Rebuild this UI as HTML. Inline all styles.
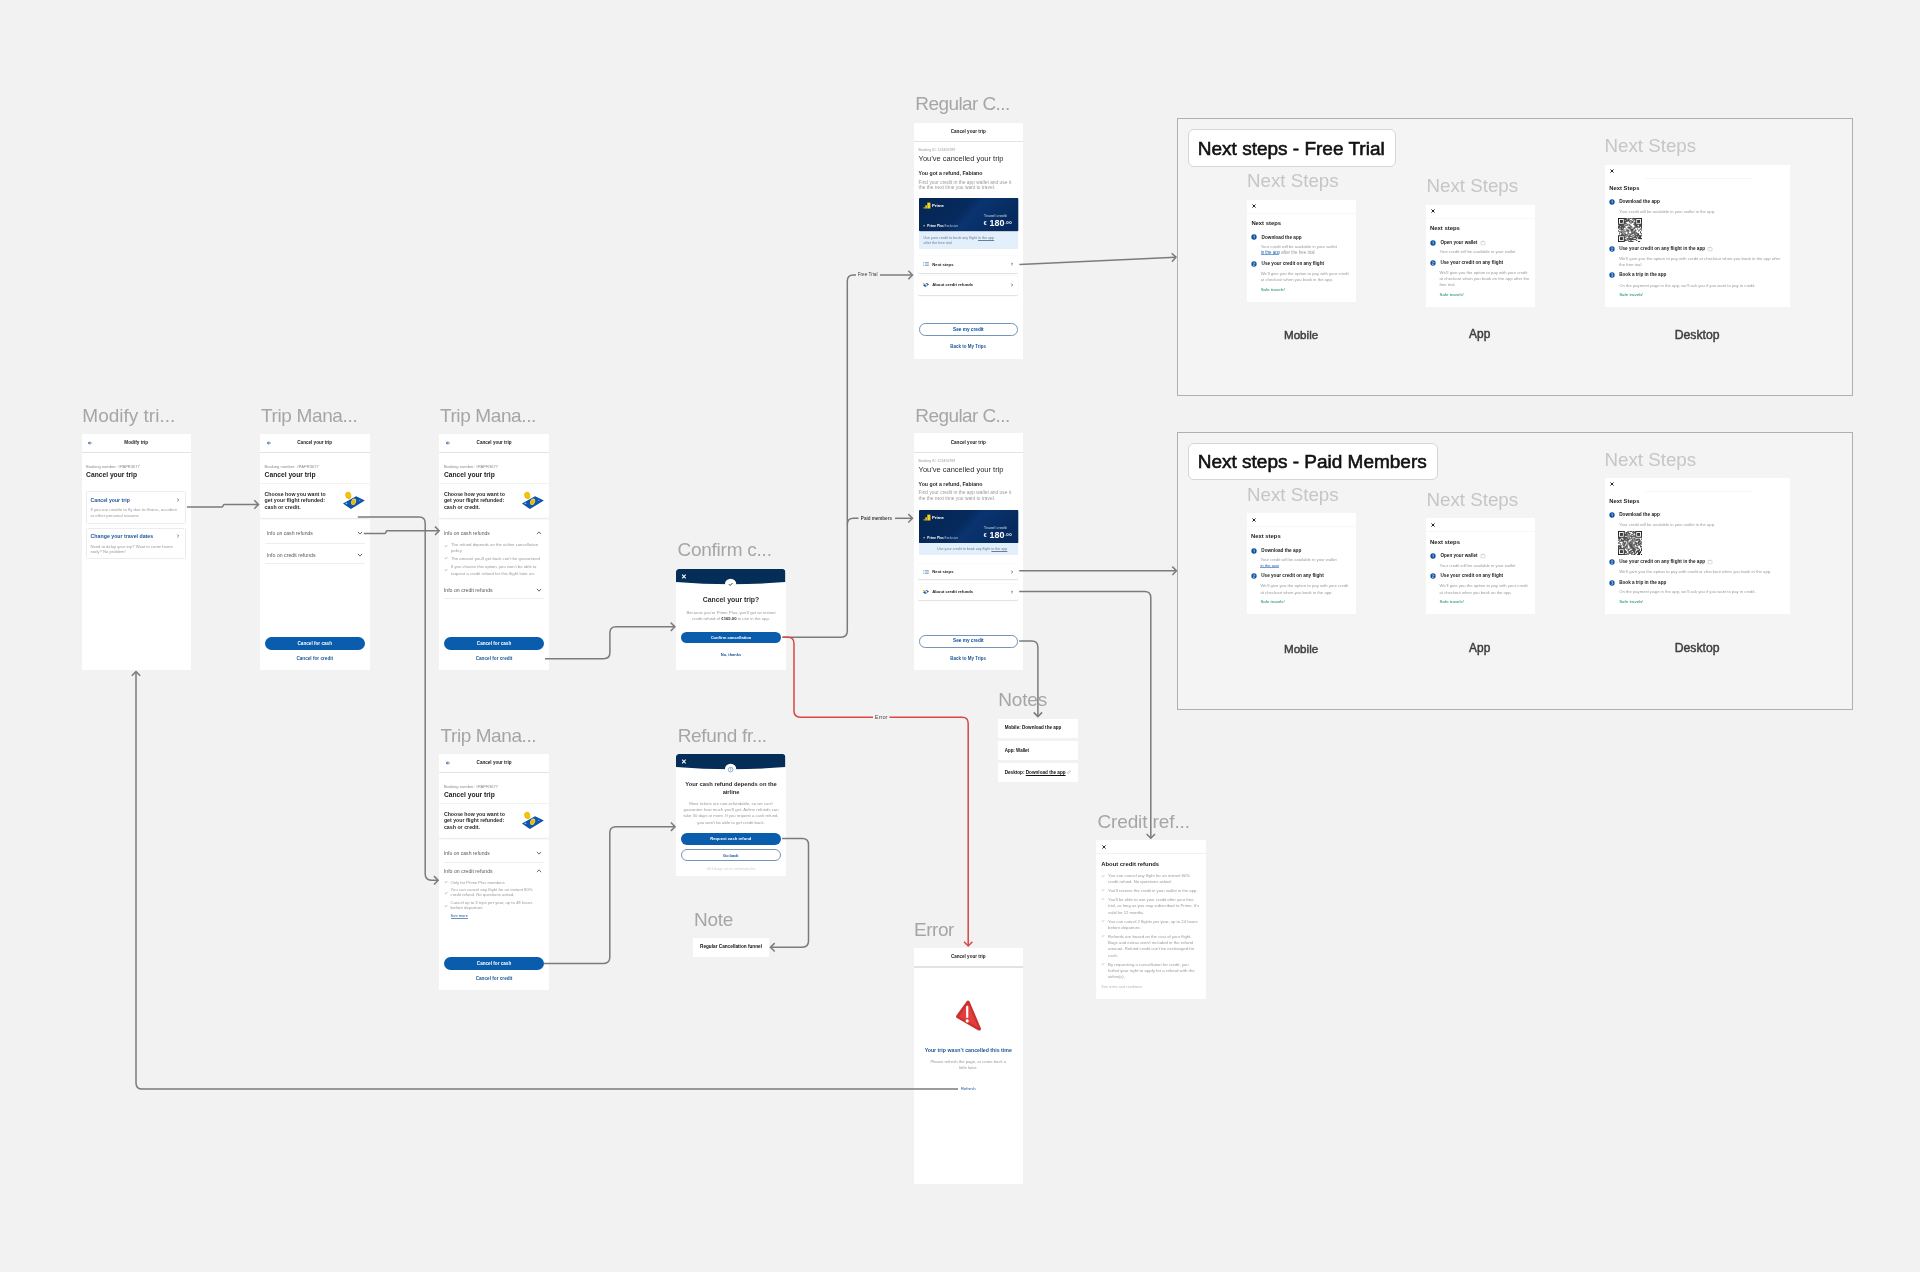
<!DOCTYPE html><html><head><meta charset="utf-8"><style>
html,body{margin:0;padding:0}body{width:1920px;height:1272px;background:#f2f2f2;position:relative;overflow:hidden;font-family:'Liberation Sans',sans-serif}
.t{position:absolute;white-space:nowrap}.r{position:absolute}.f{position:absolute;background:#fff;overflow:hidden}#w{position:absolute;left:0;top:0;width:1920px;height:1272px;will-change:transform}
</style></head><body><div id="w">
<div class="t" style="left:82.30px;top:405.56px;font-size:19px;line-height:19px;color:#a6a6a6;font-weight:400;letter-spacing:0.007px;">Modify tri...</div>
<div class="t" style="left:261.00px;top:405.56px;font-size:19px;line-height:19px;color:#a6a6a6;font-weight:400;letter-spacing:-0.364px;">Trip Mana...</div>
<div class="t" style="left:439.90px;top:405.56px;font-size:19px;line-height:19px;color:#a6a6a6;font-weight:400;letter-spacing:-0.38px;">Trip Mana...</div>
<div class="t" style="left:440.50px;top:725.86px;font-size:19px;line-height:19px;color:#a6a6a6;font-weight:400;letter-spacing:-0.422px;">Trip Mana...</div>
<div class="t" style="left:677.40px;top:540.06px;font-size:19px;line-height:19px;color:#a6a6a6;font-weight:400;letter-spacing:-0.235px;">Confirm c...</div>
<div class="t" style="left:677.70px;top:725.76px;font-size:19px;line-height:19px;color:#a6a6a6;font-weight:400;letter-spacing:-0.316px;">Refund fr...</div>
<div class="t" style="left:693.90px;top:909.76px;font-size:19px;line-height:19px;color:#a6a6a6;font-weight:400;letter-spacing:-0.233px;">Note</div>
<div class="t" style="left:915.30px;top:94.36px;font-size:19px;line-height:19px;color:#a6a6a6;font-weight:400;letter-spacing:-0.581px;">Regular C...</div>
<div class="t" style="left:915.30px;top:406.26px;font-size:19px;line-height:19px;color:#a6a6a6;font-weight:400;letter-spacing:-0.581px;">Regular C...</div>
<div class="t" style="left:998.30px;top:690.26px;font-size:19px;line-height:19px;color:#a6a6a6;font-weight:400;letter-spacing:-0.167px;">Notes</div>
<div class="t" style="left:914.10px;top:919.86px;font-size:19px;line-height:19px;color:#a6a6a6;font-weight:400;letter-spacing:-0.504px;">Error</div>
<div class="t" style="left:1097.40px;top:811.66px;font-size:19px;line-height:19px;color:#a6a6a6;font-weight:400;letter-spacing:-0.113px;">Credit ref...</div>
<div class="f" style="left:81.5px;top:433.6px;width:109.5px;height:236.5px;"><div class="r" style="left:0.00px;top:0.00px;width:109.50px;height:19.00px;background:#fff;"></div><div class="r" style="left:0.00px;top:18.60px;width:109.50px;height:1.30px;background:#e3e3e3;"></div><div class="t" style="left:-145.25px;width:400px;text-align:center;top:7.36px;font-size:4.677px;line-height:4.677px;color:#1e1e1e;font-weight:700;">Modify trip</div><svg class="r" style="left:4.80px;top:5.50px" width="8" height="8" viewBox="-4.0 -4.0 8 8"><path d="M1.7 0H-1.6M-0.1 -1.5L-1.6 0L-0.1 1.5" stroke="#1d5599" stroke-width="0.85" fill="none"/></svg><div class="t" style="left:4.60px;top:31.67px;font-size:4.055px;line-height:4.055px;color:#8c8c8c;font-weight:400;">Booking number: #PAPR3677</div><div class="t" style="left:4.60px;top:38.65px;font-size:6.699px;line-height:6.699px;color:#222;font-weight:700;">Cancel your trip</div><div class="r" style="left:4.60px;top:57.20px;width:99.50px;height:33.00px;border:0.7px solid #ececec;border-radius:1.5px;box-sizing:border-box;"></div><div class="t" style="left:9.10px;top:64.21px;font-size:5.175px;line-height:5.175px;color:#1d5599;font-weight:700;">Cancel your trip</div><svg class="r" style="left:92.80px;top:62.40px" width="8" height="8" viewBox="-4.0 -4.0 8 8"><path d="M-0.72 -1.44L0.72 0L-0.72 1.44" stroke="#1a4d8f" stroke-width="0.7" fill="none"/></svg><div class="t" style="left:8.90px;top:74.56px;font-size:4.27px;line-height:4.27px;color:#9a9a9a;font-weight:400;">If you are unable to fly due to illness, accident</div><div class="t" style="left:8.90px;top:80.26px;font-size:4.274px;line-height:4.274px;color:#9a9a9a;font-weight:400;">or other personal reasons</div><div class="r" style="left:4.60px;top:94.40px;width:99.50px;height:31.40px;border:0.7px solid #ececec;border-radius:1.5px;box-sizing:border-box;"></div><div class="t" style="left:9.10px;top:100.18px;font-size:5.248px;line-height:5.248px;color:#1d5599;font-weight:700;">Change your travel dates</div><svg class="r" style="left:92.80px;top:98.40px" width="8" height="8" viewBox="-4.0 -4.0 8 8"><path d="M-0.72 -1.44L0.72 0L-0.72 1.44" stroke="#1a4d8f" stroke-width="0.7" fill="none"/></svg><div class="t" style="left:8.90px;top:110.91px;font-size:4.178px;line-height:4.178px;color:#9a9a9a;font-weight:400;">Need to delay your trip? Want to come home</div><div class="t" style="left:8.90px;top:116.51px;font-size:4.19px;line-height:4.19px;color:#9a9a9a;font-weight:400;">early? No problem!</div></div>
<div class="f" style="left:260.0px;top:433.6px;width:109.5px;height:236.5px;"><div class="r" style="left:0.00px;top:0.00px;width:109.50px;height:19.00px;background:#fff;"></div><div class="r" style="left:0.00px;top:18.60px;width:109.50px;height:1.30px;background:#e3e3e3;"></div><div class="t" style="left:-145.25px;width:400px;text-align:center;top:7.41px;font-size:4.584px;line-height:4.584px;color:#1e1e1e;font-weight:700;">Cancel your trip</div><svg class="r" style="left:4.80px;top:5.50px" width="8" height="8" viewBox="-4.0 -4.0 8 8"><path d="M1.7 0H-1.6M-0.1 -1.5L-1.6 0L-0.1 1.5" stroke="#1d5599" stroke-width="0.85" fill="none"/></svg><div class="t" style="left:4.60px;top:31.66px;font-size:4.085px;line-height:4.085px;color:#8c8c8c;font-weight:400;">Booking number: #PAPR3677</div><div class="t" style="left:4.60px;top:38.65px;font-size:6.699px;line-height:6.699px;color:#222;font-weight:700;">Cancel your trip</div><div class="r" style="left:0.00px;top:49.60px;width:109.50px;height:1.20px;background:#f3f3f3;"></div><div class="r" style="left:0.00px;top:51.50px;width:109.50px;height:32.50px;background:#fff;box-shadow:0 1px 1.5px rgba(0,0,0,0.10);border-radius:0 0 2px 2px;"></div><div class="t" style="left:4.60px;top:58.50px;font-size:5.205px;line-height:5.205px;color:#2b2b2b;font-weight:700;">Choose how you want to</div><div class="t" style="left:4.60px;top:64.88px;font-size:5.236px;line-height:5.236px;color:#2b2b2b;font-weight:700;">get your flight refunded:</div><div class="t" style="left:4.60px;top:71.25px;font-size:5.296px;line-height:5.296px;color:#2b2b2b;font-weight:700;">cash or credit.</div><svg class="r" style="left:82.50px;top:57.30px" width="22" height="19" viewBox="0 0 22 19">
<polygon points="0,12.5 13.1,5.2 21.8,9.4 7.9,17.9" fill="#0b4da0"/>
<polygon points="1.2,12.5 13.1,6 20.5,9.4 7.9,17" fill="#0f56ad"/>
<ellipse cx="10.6" cy="10.8" rx="2.3" ry="3.3" transform="rotate(25 10.6 10.8)" fill="#f6e7a0"/>
<ellipse cx="10.4" cy="11" rx="1.9" ry="2.9" transform="rotate(25 10.4 11)" fill="#e9b800"/>
<circle cx="3.4" cy="12.3" r="0.9" fill="#6cc8ff"/>
<circle cx="16.6" cy="9.3" r="0.9" fill="#3c90e6"/>
<ellipse cx="5.3" cy="4.4" rx="2.9" ry="3.6" transform="rotate(-15 5.3 4.4)" fill="#e7b000"/>
<ellipse cx="5.6" cy="4.2" rx="2.3" ry="3.1" transform="rotate(-15 5.6 4.2)" fill="#f2c40f"/>
</svg><div class="t" style="left:6.80px;top:97.75px;font-size:5.098px;line-height:5.098px;color:#5a5a5a;font-weight:400;">Info on cash refunds</div><svg class="r" style="left:95.60px;top:95.90px" width="8" height="8" viewBox="-4.0 -4.0 8 8"><path d="M-2.1 -1.15L0 1.15L2.1 -1.15" stroke="#444" stroke-width="0.8" fill="none"/></svg><div class="r" style="left:4.60px;top:109.30px;width:100.00px;height:0.60px;background:#ededed;"></div><div class="t" style="left:6.80px;top:119.70px;font-size:5.195px;line-height:5.195px;color:#5a5a5a;font-weight:400;">Info on credit refunds</div><svg class="r" style="left:95.60px;top:117.90px" width="8" height="8" viewBox="-4.0 -4.0 8 8"><path d="M-2.1 -1.15L0 1.15L2.1 -1.15" stroke="#444" stroke-width="0.8" fill="none"/></svg><div class="r" style="left:4.60px;top:129.80px;width:100.00px;height:0.60px;background:#ededed;"></div><div class="r" style="left:5.00px;top:203.50px;width:99.50px;height:13.00px;background:#0a5cad;border-radius:6.5px;"></div><div class="t" style="left:-145.25px;width:400px;text-align:center;top:208.08px;font-size:4.633px;line-height:4.633px;color:#fff;font-weight:700;">Cancel for cash</div><div class="t" style="left:-145.25px;width:400px;text-align:center;top:223.06px;font-size:4.689px;line-height:4.689px;color:#1d5599;font-weight:700;">Cancel for credit</div></div>
<div class="f" style="left:439.3px;top:433.6px;width:109.5px;height:236.5px;"><div class="r" style="left:0.00px;top:0.00px;width:109.50px;height:19.00px;background:#fff;"></div><div class="r" style="left:0.00px;top:18.60px;width:109.50px;height:1.30px;background:#e3e3e3;"></div><div class="t" style="left:-145.25px;width:400px;text-align:center;top:7.41px;font-size:4.584px;line-height:4.584px;color:#1e1e1e;font-weight:700;">Cancel your trip</div><svg class="r" style="left:4.80px;top:5.50px" width="8" height="8" viewBox="-4.0 -4.0 8 8"><path d="M1.7 0H-1.6M-0.1 -1.5L-1.6 0L-0.1 1.5" stroke="#1d5599" stroke-width="0.85" fill="none"/></svg><div class="t" style="left:4.60px;top:31.66px;font-size:4.085px;line-height:4.085px;color:#8c8c8c;font-weight:400;">Booking number: #PAPR3677</div><div class="t" style="left:4.60px;top:38.65px;font-size:6.699px;line-height:6.699px;color:#222;font-weight:700;">Cancel your trip</div><div class="r" style="left:0.00px;top:49.60px;width:109.50px;height:1.20px;background:#f3f3f3;"></div><div class="r" style="left:0.00px;top:51.50px;width:109.50px;height:32.50px;background:#fff;box-shadow:0 1px 1.5px rgba(0,0,0,0.10);border-radius:0 0 2px 2px;"></div><div class="t" style="left:4.60px;top:58.50px;font-size:5.205px;line-height:5.205px;color:#2b2b2b;font-weight:700;">Choose how you want to</div><div class="t" style="left:4.60px;top:64.88px;font-size:5.236px;line-height:5.236px;color:#2b2b2b;font-weight:700;">get your flight refunded:</div><div class="t" style="left:4.60px;top:71.25px;font-size:5.296px;line-height:5.296px;color:#2b2b2b;font-weight:700;">cash or credit.</div><svg class="r" style="left:82.50px;top:57.30px" width="22" height="19" viewBox="0 0 22 19">
<polygon points="0,12.5 13.1,5.2 21.8,9.4 7.9,17.9" fill="#0b4da0"/>
<polygon points="1.2,12.5 13.1,6 20.5,9.4 7.9,17" fill="#0f56ad"/>
<ellipse cx="10.6" cy="10.8" rx="2.3" ry="3.3" transform="rotate(25 10.6 10.8)" fill="#f6e7a0"/>
<ellipse cx="10.4" cy="11" rx="1.9" ry="2.9" transform="rotate(25 10.4 11)" fill="#e9b800"/>
<circle cx="3.4" cy="12.3" r="0.9" fill="#6cc8ff"/>
<circle cx="16.6" cy="9.3" r="0.9" fill="#3c90e6"/>
<ellipse cx="5.3" cy="4.4" rx="2.9" ry="3.6" transform="rotate(-15 5.3 4.4)" fill="#e7b000"/>
<ellipse cx="5.6" cy="4.2" rx="2.3" ry="3.1" transform="rotate(-15 5.6 4.2)" fill="#f2c40f"/>
</svg><div class="t" style="left:4.50px;top:97.75px;font-size:5.098px;line-height:5.098px;color:#5a5a5a;font-weight:400;">Info on cash refunds</div><svg class="r" style="left:95.60px;top:95.90px" width="8" height="8" viewBox="-4.0 -4.0 8 8"><path d="M-2.1 1.15L0 -1.15L2.1 1.15" stroke="#444" stroke-width="0.8" fill="none"/></svg><svg class="r" style="left:3.00px;top:108.50px" width="8" height="8" viewBox="-4.0 -4.0 8 8"><path d="M-1.3 0.1L-0.5 0.9L1.3 -1" stroke="#4f9274" stroke-width="0.55" fill="none"/></svg><div class="t" style="left:11.60px;top:109.47px;font-size:4.265px;line-height:4.265px;color:#9a9a9a;font-weight:400;">The refund depends on the airline cancellation</div><div class="t" style="left:11.60px;top:115.05px;font-size:4.303px;line-height:4.303px;color:#9a9a9a;font-weight:400;">policy</div><svg class="r" style="left:3.00px;top:120.80px" width="8" height="8" viewBox="-4.0 -4.0 8 8"><path d="M-1.3 0.1L-0.5 0.9L1.3 -1" stroke="#4f9274" stroke-width="0.55" fill="none"/></svg><div class="t" style="left:11.60px;top:122.98px;font-size:4.246px;line-height:4.246px;color:#9a9a9a;font-weight:400;">The amount you'll get back can't be guaranteed</div><svg class="r" style="left:3.00px;top:132.80px" width="8" height="8" viewBox="-4.0 -4.0 8 8"><path d="M-1.3 0.1L-0.5 0.9L1.3 -1" stroke="#4f9274" stroke-width="0.55" fill="none"/></svg><div class="t" style="left:11.60px;top:131.68px;font-size:4.237px;line-height:4.237px;color:#9a9a9a;font-weight:400;">If you choose this option, you won't be able to</div><div class="t" style="left:11.60px;top:137.95px;font-size:4.303px;line-height:4.303px;color:#9a9a9a;font-weight:400;">request a credit refund for this flight later on.</div><div class="t" style="left:4.50px;top:153.99px;font-size:5.216px;line-height:5.216px;color:#5a5a5a;font-weight:400;">Info on credit refunds</div><svg class="r" style="left:95.60px;top:152.20px" width="8" height="8" viewBox="-4.0 -4.0 8 8"><path d="M-2.1 -1.15L0 1.15L2.1 -1.15" stroke="#444" stroke-width="0.8" fill="none"/></svg><div class="r" style="left:4.60px;top:164.50px;width:100.00px;height:0.60px;background:#ededed;"></div><div class="r" style="left:5.00px;top:203.50px;width:99.50px;height:13.00px;background:#0a5cad;border-radius:6.5px;"></div><div class="t" style="left:-145.25px;width:400px;text-align:center;top:208.08px;font-size:4.633px;line-height:4.633px;color:#fff;font-weight:700;">Cancel for cash</div><div class="t" style="left:-145.25px;width:400px;text-align:center;top:223.06px;font-size:4.689px;line-height:4.689px;color:#1d5599;font-weight:700;">Cancel for credit</div></div>
<div class="f" style="left:439.3px;top:753.6px;width:109.5px;height:236.5px;"><div class="r" style="left:0.00px;top:0.00px;width:109.50px;height:19.00px;background:#fff;"></div><div class="r" style="left:0.00px;top:18.60px;width:109.50px;height:1.30px;background:#e3e3e3;"></div><div class="t" style="left:-145.25px;width:400px;text-align:center;top:7.41px;font-size:4.584px;line-height:4.584px;color:#1e1e1e;font-weight:700;">Cancel your trip</div><svg class="r" style="left:4.80px;top:5.50px" width="8" height="8" viewBox="-4.0 -4.0 8 8"><path d="M1.7 0H-1.6M-0.1 -1.5L-1.6 0L-0.1 1.5" stroke="#1d5599" stroke-width="0.85" fill="none"/></svg><div class="t" style="left:4.60px;top:31.66px;font-size:4.085px;line-height:4.085px;color:#8c8c8c;font-weight:400;">Booking number: #PAPR3677</div><div class="t" style="left:4.60px;top:38.65px;font-size:6.699px;line-height:6.699px;color:#222;font-weight:700;">Cancel your trip</div><div class="r" style="left:0.00px;top:49.60px;width:109.50px;height:1.20px;background:#f3f3f3;"></div><div class="r" style="left:0.00px;top:51.50px;width:109.50px;height:32.50px;background:#fff;box-shadow:0 1px 1.5px rgba(0,0,0,0.10);border-radius:0 0 2px 2px;"></div><div class="t" style="left:4.60px;top:58.50px;font-size:5.205px;line-height:5.205px;color:#2b2b2b;font-weight:700;">Choose how you want to</div><div class="t" style="left:4.60px;top:64.88px;font-size:5.236px;line-height:5.236px;color:#2b2b2b;font-weight:700;">get your flight refunded:</div><div class="t" style="left:4.60px;top:71.25px;font-size:5.296px;line-height:5.296px;color:#2b2b2b;font-weight:700;">cash or credit.</div><svg class="r" style="left:82.50px;top:57.30px" width="22" height="19" viewBox="0 0 22 19">
<polygon points="0,12.5 13.1,5.2 21.8,9.4 7.9,17.9" fill="#0b4da0"/>
<polygon points="1.2,12.5 13.1,6 20.5,9.4 7.9,17" fill="#0f56ad"/>
<ellipse cx="10.6" cy="10.8" rx="2.3" ry="3.3" transform="rotate(25 10.6 10.8)" fill="#f6e7a0"/>
<ellipse cx="10.4" cy="11" rx="1.9" ry="2.9" transform="rotate(25 10.4 11)" fill="#e9b800"/>
<circle cx="3.4" cy="12.3" r="0.9" fill="#6cc8ff"/>
<circle cx="16.6" cy="9.3" r="0.9" fill="#3c90e6"/>
<ellipse cx="5.3" cy="4.4" rx="2.9" ry="3.6" transform="rotate(-15 5.3 4.4)" fill="#e7b000"/>
<ellipse cx="5.6" cy="4.2" rx="2.3" ry="3.1" transform="rotate(-15 5.6 4.2)" fill="#f2c40f"/>
</svg><div class="t" style="left:4.50px;top:97.75px;font-size:5.098px;line-height:5.098px;color:#5a5a5a;font-weight:400;">Info on cash refunds</div><svg class="r" style="left:95.60px;top:95.90px" width="8" height="8" viewBox="-4.0 -4.0 8 8"><path d="M-2.1 -1.15L0 1.15L2.1 -1.15" stroke="#444" stroke-width="0.8" fill="none"/></svg><div class="r" style="left:4.60px;top:108.20px;width:100.00px;height:0.60px;background:#ededed;"></div><div class="t" style="left:4.50px;top:115.39px;font-size:5.216px;line-height:5.216px;color:#5a5a5a;font-weight:400;">Info on credit refunds</div><svg class="r" style="left:95.60px;top:113.60px" width="8" height="8" viewBox="-4.0 -4.0 8 8"><path d="M-2.1 1.15L0 -1.15L2.1 1.15" stroke="#444" stroke-width="0.8" fill="none"/></svg><svg class="r" style="left:2.60px;top:124.80px" width="8" height="8" viewBox="-4.0 -4.0 8 8"><path d="M-1.3 0.1L-0.5 0.9L1.3 -1" stroke="#4f9274" stroke-width="0.55" fill="none"/></svg><div class="t" style="left:11.30px;top:127.11px;font-size:4.181px;line-height:4.181px;color:#9a9a9a;font-weight:400;">Only for Prime Plus members</div><svg class="r" style="left:2.60px;top:135.00px" width="8" height="8" viewBox="-4.0 -4.0 8 8"><path d="M-1.3 0.1L-0.5 0.9L1.3 -1" stroke="#4f9274" stroke-width="0.55" fill="none"/></svg><div class="t" style="left:11.30px;top:134.78px;font-size:4.24px;line-height:4.24px;color:#9a9a9a;font-weight:400;">You can cancel any flight for an instant 80%</div><div class="t" style="left:11.30px;top:139.89px;font-size:4.217px;line-height:4.217px;color:#9a9a9a;font-weight:400;">credit refund. No questions asked.</div><svg class="r" style="left:2.60px;top:148.00px" width="8" height="8" viewBox="-4.0 -4.0 8 8"><path d="M-1.3 0.1L-0.5 0.9L1.3 -1" stroke="#4f9274" stroke-width="0.55" fill="none"/></svg><div class="t" style="left:11.30px;top:147.49px;font-size:4.213px;line-height:4.213px;color:#9a9a9a;font-weight:400;">Cancel up to 3 trips per year, up to 48 hours</div><div class="t" style="left:11.30px;top:152.62px;font-size:4.355px;line-height:4.355px;color:#9a9a9a;font-weight:400;">before departure</div><div class="t" style="left:11.30px;top:160.60px;font-size:3.99px;line-height:3.99px;color:#1d5599;font-weight:400;">See more</div><div class="r" style="left:11.30px;top:164.30px;width:17.30px;height:0.35px;background:#6d8fbf;"></div><div class="r" style="left:5.00px;top:203.70px;width:99.50px;height:13.00px;background:#0a5cad;border-radius:6.5px;"></div><div class="t" style="left:-145.25px;width:400px;text-align:center;top:208.28px;font-size:4.633px;line-height:4.633px;color:#fff;font-weight:700;">Cancel for cash</div><div class="t" style="left:-145.25px;width:400px;text-align:center;top:222.96px;font-size:4.689px;line-height:4.689px;color:#1d5599;font-weight:700;">Cancel for credit</div></div>
<div class="f" style="left:676.4px;top:568.7px;width:109.2px;height:101.2px;background:#fff;border-radius:3px 3px 0 0;"><svg class="r" style="left:0;top:0" width="110" height="22" viewBox="0 0 110 22">
<path d="M0 2.6 Q0 0 2.6 0 L106.60000000000001 0 Q109.2 0 109.2 2.6 L109.2 13 Q54.6 17.4 0 13 Z" fill="#042d57"/>
<circle cx="54.6" cy="15.4" r="5.7" fill="#fff"/>
<path d="M0.6 0.6L4.2 4.2M4.2 0.6L0.6 4.2" transform="translate(5.5,5.1)" stroke="#fff" stroke-width="1.05"/>
<path d="M52.9 15.2L54.2 16.5L56.5 14" stroke="#1b1b1b" stroke-width="0.85" fill="none"/></svg><div class="t" style="left:-145.40px;width:400px;text-align:center;top:28.66px;font-size:6.883px;line-height:6.883px;color:#2f2f2f;font-weight:700;">Cancel your trip?</div><div class="t" style="left:-145.40px;width:400px;text-align:center;top:42.48px;font-size:4.24px;line-height:4.24px;color:#9a9a9a;font-weight:400;">Because you're Prime Plus, you'll get an instant</div><div class="t" style="left:-145.40px;width:400px;text-align:center;top:48.59px;font-size:4.213px;line-height:4.213px;color:#9a9a9a;font-weight:400;">credit refund of <b style="color:#333">€165.00</b> to use in the app.</div><div class="r" style="left:4.80px;top:63.00px;width:99.50px;height:11.70px;background:#0a5cad;border-radius:5.85px;"></div><div class="t" style="left:-145.45px;width:400px;text-align:center;top:67.19px;font-size:4.115px;line-height:4.115px;color:#fff;font-weight:700;">Confirm cancellation</div><div class="t" style="left:-145.40px;width:400px;text-align:center;top:84.09px;font-size:4.03px;line-height:4.03px;color:#1d5599;font-weight:700;">No, thanks</div></div>
<div class="f" style="left:676.4px;top:753.7px;width:109.2px;height:122px;background:#fff;border-radius:3px 3px 0 0;"><svg class="r" style="left:0;top:0" width="110" height="22" viewBox="0 0 110 22">
<path d="M0 2.6 Q0 0 2.6 0 L106.60000000000001 0 Q109.2 0 109.2 2.6 L109.2 13 Q54.6 17.4 0 13 Z" fill="#042d57"/>
<circle cx="54.6" cy="15.4" r="5.7" fill="#fff"/>
<path d="M0.6 0.6L4.2 4.2M4.2 0.6L0.6 4.2" transform="translate(5.5,5.1)" stroke="#fff" stroke-width="1.05"/>
<circle cx="54.6" cy="15.6" r="2.3" stroke="#3a7cc8" stroke-width="0.6" fill="none"/><path d="M54.1 14.3L54.7 14.3V16.6" stroke="#3a7cc8" stroke-width="0.5" fill="none"/></svg><div class="t" style="left:-145.40px;width:400px;text-align:center;top:28.80px;font-size:5.79px;line-height:5.79px;color:#2a2a2a;font-weight:700;">Your cash refund depends on the</div><div class="t" style="left:-145.40px;width:400px;text-align:center;top:36.07px;font-size:5.669px;line-height:5.669px;color:#2a2a2a;font-weight:700;">airline</div><div class="t" style="left:-145.40px;width:400px;text-align:center;top:48.05px;font-size:4.295px;line-height:4.295px;color:#9a9a9a;font-weight:400;">Most tickets are non-refundable, so we can't</div><div class="t" style="left:-145.40px;width:400px;text-align:center;top:54.36px;font-size:4.282px;line-height:4.282px;color:#9a9a9a;font-weight:400;">guarantee how much you'll get. Airline refunds can</div><div class="t" style="left:-145.40px;width:400px;text-align:center;top:60.79px;font-size:4.221px;line-height:4.221px;color:#9a9a9a;font-weight:400;">take 30 days or more. If you request a cash refund,</div><div class="t" style="left:-145.40px;width:400px;text-align:center;top:67.18px;font-size:4.239px;line-height:4.239px;color:#9a9a9a;font-weight:400;">you won't be able to get credit back.</div><div class="r" style="left:4.60px;top:78.90px;width:99.60px;height:12.10px;background:#0a5cad;border-radius:6.05px;"></div><div class="t" style="left:-145.60px;width:400px;text-align:center;top:83.27px;font-size:4.165px;line-height:4.165px;color:#fff;font-weight:700;">Request cash refund</div><div class="r" style="left:4.60px;top:95.60px;width:99.60px;height:12.10px;background:#fff;border:0.8px solid #7693b8;border-radius:6.05px;box-sizing:border-box;"></div><div class="t" style="left:-145.60px;width:400px;text-align:center;top:100.10px;font-size:3.903px;line-height:3.903px;color:#0b4f9a;font-weight:700;">Go back</div><div class="t" style="left:-145.40px;width:400px;text-align:center;top:113.91px;font-size:2.983px;line-height:2.983px;color:#cfcfcf;font-weight:400;">We'll always ask for confirmation first</div></div>
<div class="f" style="left:913.5px;top:122.5px;width:109.5px;height:236.5px;"><div class="r" style="left:0.00px;top:0.00px;width:109.50px;height:19.00px;background:#fff;"></div><div class="r" style="left:0.00px;top:18.60px;width:109.50px;height:1.30px;background:#e3e3e3;"></div><div class="t" style="left:-145.25px;width:400px;text-align:center;top:7.39px;font-size:4.611px;line-height:4.611px;color:#1e1e1e;font-weight:700;">Cancel your trip</div><div class="t" style="left:5.10px;top:26.65px;font-size:3.502px;line-height:3.502px;color:#a0a0a0;font-weight:400;">Booking ID: 123456789</div><div class="t" style="left:5.10px;top:32.56px;font-size:7.484px;line-height:7.484px;color:#2b2b2b;font-weight:400;">You’ve cancelled your trip</div><div class="t" style="left:5.10px;top:48.59px;font-size:5.214px;line-height:5.214px;color:#2a2a2a;font-weight:700;">You got a refund, Fabiano</div><div class="t" style="left:5.10px;top:58.06px;font-size:4.881px;line-height:4.881px;color:#9a9a9a;font-weight:400;">Find your credit in the app wallet and use it</div><div class="t" style="left:5.10px;top:63.97px;font-size:4.859px;line-height:4.859px;color:#9a9a9a;font-weight:400;">the the next time you want to travel.</div><svg class="r" style="left:5.2px;top:75.90px" width="100" height="34" viewBox="0 0 100 34">
<defs><linearGradient id="pg759" x1="0" y1="0" x2="1" y2="0.3"><stop offset="0" stop-color="#052654"/><stop offset="0.5" stop-color="#062a5c"/><stop offset="0.62" stop-color="#0a3470"/><stop offset="1" stop-color="#062a5e"/></linearGradient></defs>
<rect x="0" y="0" width="99.3" height="33.3" rx="1" fill="url(#pg759)"/>
<rect x="4.6" y="9.3" width="1.2" height="1.2" fill="#f7d21e"/>
<rect x="6.3" y="7.3" width="1.6" height="3.2" fill="#f7d21e"/>
<rect x="8.3" y="4.6" width="3.1" height="5.9" fill="#f7d21e"/>
<circle cx="5.1" cy="27.7" r="0.7" fill="#c9e36b"/>
</svg><div class="t" style="left:18.50px;top:81.54px;font-size:4.318px;line-height:4.318px;color:#fff;font-weight:700;">Prime</div><div class="t" style="left:13.80px;top:102.41px;font-size:3.181px;line-height:3.181px;color:#fff;font-weight:700;">Prime Plus <span style="font-weight:400;color:#b8c7dd">Exclusive</span></div><div class="t" style="left:70.30px;top:91.39px;font-size:4.217px;line-height:4.217px;color:#d4def0;font-weight:400;">Travel credit</div><div class="t" style="left:70.30px;top:98.70px;font-size:5.2px;line-height:5.2px;color:#fff;font-weight:700;">€</div><div class="t" style="left:76.00px;top:96.84px;font-size:8.93px;line-height:8.93px;color:#fff;font-weight:700;">180</div><div class="t" style="left:91.00px;top:98.50px;font-size:4.4px;line-height:4.4px;color:#fff;font-weight:700;letter-spacing:0.5px;">.00</div><div class="r" style="left:5.20px;top:109.20px;width:99.30px;height:17.00px;background:#e3effb;border-radius:0 0 1px 1px;"></div><div class="t" style="left:10.00px;top:114.06px;font-size:3.681px;line-height:3.681px;color:#6a7f98;font-weight:400;">Use your credit to book any flight <u style="text-decoration-thickness:0.3px">in the app</u></div><div class="t" style="left:10.00px;top:119.12px;font-size:3.757px;line-height:3.757px;color:#6a7f98;font-weight:400;">after the free trial</div><div class="r" style="left:4.80px;top:133.30px;width:99.80px;height:17.00px;background:#fff;border-radius:1.5px;box-shadow:0 0.3px 1.2px rgba(0,0,0,0.13);"></div><svg class="r" style="left:8.00px;top:137.80px" width="8" height="8" viewBox="-4.0 -4.0 8 8"><path d="M-2.7 -1.5H-1.7M-2.7 0H-1.7M-2.7 1.5H-1.7M-0.9 -1.5H2.8M-0.9 0H2.8M-0.9 1.5H2.8" stroke="#4a78b4" stroke-width="0.6"/></svg><div class="t" style="left:18.80px;top:140.10px;font-size:4.192px;line-height:4.192px;color:#222;font-weight:700;">Next steps</div><svg class="r" style="left:94.30px;top:137.80px" width="8" height="8" viewBox="-4.0 -4.0 8 8"><path d="M-0.66 -1.32L0.66 0L-0.66 1.32" stroke="#333" stroke-width="0.7" fill="none"/></svg><div class="r" style="left:4.80px;top:153.10px;width:99.80px;height:19.00px;background:#fff;border-radius:1.5px;box-shadow:0 0.3px 1.2px rgba(0,0,0,0.13);"></div><svg class="r" style="left:8.00px;top:158.60px" width="8" height="8" viewBox="-4.0 -4.0 8 8"><polygon points="-3,0.3 0.8,-1.9 3,-0.6 -0.8,1.9" fill="#0d4fa0"/><circle cx="0.2" cy="-0.2" r="1.05" fill="#e9f1fb"/><circle cx="-2.4" cy="-1.4" r="0.8" fill="#f0b400"/></svg><div class="t" style="left:18.80px;top:160.92px;font-size:4.169px;line-height:4.169px;color:#222;font-weight:700;">About credit refunds</div><svg class="r" style="left:94.30px;top:158.60px" width="8" height="8" viewBox="-4.0 -4.0 8 8"><path d="M-0.66 -1.32L0.66 0L-0.66 1.32" stroke="#333" stroke-width="0.7" fill="none"/></svg><div class="r" style="left:5.00px;top:200.80px;width:99.70px;height:12.70px;background:#fff;border:0.8px solid #7693b8;border-radius:6.35px;box-sizing:border-box;"></div><div class="t" style="left:-145.15px;width:400px;text-align:center;top:205.19px;font-size:4.721px;line-height:4.721px;color:#0b4f9a;font-weight:700;">See my credit</div><div class="t" style="left:-145.25px;width:400px;text-align:center;top:222.64px;font-size:4.511px;line-height:4.511px;color:#1d5599;font-weight:700;">Back to My Trips</div></div>
<div class="f" style="left:913.5px;top:433.4px;width:109.5px;height:236.5px;"><div class="r" style="left:0.00px;top:0.00px;width:109.50px;height:19.00px;background:#fff;"></div><div class="r" style="left:0.00px;top:18.60px;width:109.50px;height:1.30px;background:#e3e3e3;"></div><div class="t" style="left:-145.25px;width:400px;text-align:center;top:7.39px;font-size:4.611px;line-height:4.611px;color:#1e1e1e;font-weight:700;">Cancel your trip</div><div class="t" style="left:5.10px;top:26.65px;font-size:3.502px;line-height:3.502px;color:#a0a0a0;font-weight:400;">Booking ID: 123456789</div><div class="t" style="left:5.10px;top:32.56px;font-size:7.484px;line-height:7.484px;color:#2b2b2b;font-weight:400;">You’ve cancelled your trip</div><div class="t" style="left:5.10px;top:48.59px;font-size:5.214px;line-height:5.214px;color:#2a2a2a;font-weight:700;">You got a refund, Fabiano</div><div class="t" style="left:5.10px;top:58.06px;font-size:4.881px;line-height:4.881px;color:#9a9a9a;font-weight:400;">Find your credit in the app wallet and use it</div><div class="t" style="left:5.10px;top:63.97px;font-size:4.859px;line-height:4.859px;color:#9a9a9a;font-weight:400;">the the next time you want to travel.</div><svg class="r" style="left:5.2px;top:76.70px" width="100" height="34" viewBox="0 0 100 34">
<defs><linearGradient id="pg767" x1="0" y1="0" x2="1" y2="0.3"><stop offset="0" stop-color="#052654"/><stop offset="0.5" stop-color="#062a5c"/><stop offset="0.62" stop-color="#0a3470"/><stop offset="1" stop-color="#062a5e"/></linearGradient></defs>
<rect x="0" y="0" width="99.3" height="33.3" rx="1" fill="url(#pg767)"/>
<rect x="4.6" y="9.3" width="1.2" height="1.2" fill="#f7d21e"/>
<rect x="6.3" y="7.3" width="1.6" height="3.2" fill="#f7d21e"/>
<rect x="8.3" y="4.6" width="3.1" height="5.9" fill="#f7d21e"/>
<circle cx="5.1" cy="27.7" r="0.7" fill="#c9e36b"/>
</svg><div class="t" style="left:18.50px;top:82.34px;font-size:4.318px;line-height:4.318px;color:#fff;font-weight:700;">Prime</div><div class="t" style="left:13.80px;top:103.21px;font-size:3.181px;line-height:3.181px;color:#fff;font-weight:700;">Prime Plus <span style="font-weight:400;color:#b8c7dd">Exclusive</span></div><div class="t" style="left:70.30px;top:92.19px;font-size:4.217px;line-height:4.217px;color:#d4def0;font-weight:400;">Travel credit</div><div class="t" style="left:70.30px;top:99.50px;font-size:5.2px;line-height:5.2px;color:#fff;font-weight:700;">€</div><div class="t" style="left:76.00px;top:97.64px;font-size:8.93px;line-height:8.93px;color:#fff;font-weight:700;">180</div><div class="t" style="left:91.00px;top:99.30px;font-size:4.4px;line-height:4.4px;color:#fff;font-weight:700;letter-spacing:0.5px;">.00</div><div class="r" style="left:5.20px;top:110.00px;width:99.30px;height:11.50px;background:#e3effb;border-radius:0 0 1px 1px;"></div><div class="t" style="left:-141.25px;width:400px;text-align:center;top:114.46px;font-size:3.676px;line-height:3.676px;color:#6a7f98;font-weight:400;">Use your credit to book any flight <u style="text-decoration-thickness:0.3px">in the app</u></div><div class="r" style="left:4.80px;top:131.00px;width:99.80px;height:14.80px;background:#fff;border-radius:1.5px;box-shadow:0 0.3px 1.2px rgba(0,0,0,0.13);"></div><svg class="r" style="left:8.00px;top:134.40px" width="8" height="8" viewBox="-4.0 -4.0 8 8"><path d="M-2.7 -1.5H-1.7M-2.7 0H-1.7M-2.7 1.5H-1.7M-0.9 -1.5H2.8M-0.9 0H2.8M-0.9 1.5H2.8" stroke="#4a78b4" stroke-width="0.6"/></svg><div class="t" style="left:18.80px;top:136.70px;font-size:4.192px;line-height:4.192px;color:#222;font-weight:700;">Next steps</div><svg class="r" style="left:94.30px;top:134.40px" width="8" height="8" viewBox="-4.0 -4.0 8 8"><path d="M-0.66 -1.32L0.66 0L-0.66 1.32" stroke="#333" stroke-width="0.7" fill="none"/></svg><div class="r" style="left:4.80px;top:150.30px;width:99.80px;height:16.00px;background:#fff;border-radius:1.5px;box-shadow:0 0.3px 1.2px rgba(0,0,0,0.13);"></div><svg class="r" style="left:8.00px;top:154.30px" width="8" height="8" viewBox="-4.0 -4.0 8 8"><polygon points="-3,0.3 0.8,-1.9 3,-0.6 -0.8,1.9" fill="#0d4fa0"/><circle cx="0.2" cy="-0.2" r="1.05" fill="#e9f1fb"/><circle cx="-2.4" cy="-1.4" r="0.8" fill="#f0b400"/></svg><div class="t" style="left:18.80px;top:156.62px;font-size:4.169px;line-height:4.169px;color:#222;font-weight:700;">About credit refunds</div><svg class="r" style="left:94.30px;top:154.30px" width="8" height="8" viewBox="-4.0 -4.0 8 8"><path d="M-0.66 -1.32L0.66 0L-0.66 1.32" stroke="#333" stroke-width="0.7" fill="none"/></svg><div class="r" style="left:5.00px;top:201.70px;width:99.70px;height:12.50px;background:#fff;border:0.8px solid #7693b8;border-radius:6.25px;box-sizing:border-box;"></div><div class="t" style="left:-145.15px;width:400px;text-align:center;top:205.99px;font-size:4.721px;line-height:4.721px;color:#0b4f9a;font-weight:700;">See my credit</div><div class="t" style="left:-145.25px;width:400px;text-align:center;top:223.24px;font-size:4.511px;line-height:4.511px;color:#1d5599;font-weight:700;">Back to My Trips</div></div>
<div class="f" style="left:913.5px;top:947.8px;width:109.5px;height:236px;"><div class="r" style="left:0.00px;top:0.00px;width:109.50px;height:19.00px;background:#fff;"></div><div class="r" style="left:0.00px;top:18.60px;width:109.50px;height:1.30px;background:#e3e3e3;"></div><div class="t" style="left:-145.25px;width:400px;text-align:center;top:7.42px;font-size:4.558px;line-height:4.558px;color:#1e1e1e;font-weight:700;">Cancel your trip</div><svg class="r" style="left:41.5px;top:52px" width="28" height="32" viewBox="0 0 28 32">
<path d="M13.1 2.3 L24.3 28.9 L2.8 16.6 Z" fill="#e03a3a" stroke="#c93030" stroke-width="3.4" stroke-linejoin="round"/>
<path d="M13.1 3.2 L23.5 27.8 L3.8 16.5 Z" fill="#e43d3d"/>
<path d="M12.2 6.8 V17" stroke="#fff" stroke-width="2.2" stroke-linecap="round"/>
<circle cx="12.2" cy="20.9" r="1.55" fill="#fff"/>
</svg><div class="t" style="left:-145.25px;width:400px;text-align:center;top:100.38px;font-size:5.238px;line-height:5.238px;color:#1d5599;font-weight:700;">Your trip wasn’t cancelled this time</div><div class="t" style="left:-145.25px;width:400px;text-align:center;top:112.09px;font-size:4.22px;line-height:4.22px;color:#9a9a9a;font-weight:400;">Please refresh the page, or come back a</div><div class="t" style="left:-145.25px;width:400px;text-align:center;top:118.15px;font-size:4.3px;line-height:4.3px;color:#9a9a9a;font-weight:400;">little later.</div><div class="t" style="left:-145.25px;width:400px;text-align:center;top:139.70px;font-size:4.198px;line-height:4.198px;color:#1d5599;font-weight:400;">Refresh</div></div>
<div class="f" style="left:1096.2px;top:840.1px;width:109.5px;height:159px;"><svg class="r" style="left:4.30px;top:3.00px" width="8" height="8" viewBox="-4.0 -4.0 8 8"><path d="M-1.6 -1.6L1.6 1.6M1.6 -1.6L-1.6 1.6" stroke="#1a1a1a" stroke-width="0.9"/></svg><div class="r" style="left:0.00px;top:12.60px;width:109.50px;height:0.60px;background:#f0f0f0;"></div><div class="t" style="left:5.00px;top:21.75px;font-size:5.908px;line-height:5.908px;color:#222;font-weight:700;">About credit refunds</div><svg class="r" style="left:2.80px;top:31.50px" width="8" height="8" viewBox="-4.0 -4.0 8 8"><path d="M-1.3 0.1L-0.5 0.9L1.3 -1" stroke="#7fb79b" stroke-width="0.55" fill="none"/></svg><div class="t" style="left:11.90px;top:34.18px;font-size:4.245px;line-height:4.245px;color:#9a9a9a;font-weight:400;">You can cancel any flight for an instant 80%</div><div class="t" style="left:11.90px;top:40.29px;font-size:4.224px;line-height:4.224px;color:#9a9a9a;font-weight:400;">credit refund. No questions asked.</div><svg class="r" style="left:2.80px;top:46.30px" width="8" height="8" viewBox="-4.0 -4.0 8 8"><path d="M-1.3 0.1L-0.5 0.9L1.3 -1" stroke="#7fb79b" stroke-width="0.55" fill="none"/></svg><div class="t" style="left:11.90px;top:48.99px;font-size:4.221px;line-height:4.221px;color:#9a9a9a;font-weight:400;">You'll receive the credit in your wallet in the app.</div><svg class="r" style="left:2.80px;top:55.40px" width="8" height="8" viewBox="-4.0 -4.0 8 8"><path d="M-1.3 0.1L-0.5 0.9L1.3 -1" stroke="#7fb79b" stroke-width="0.55" fill="none"/></svg><div class="t" style="left:11.90px;top:58.09px;font-size:4.22px;line-height:4.22px;color:#9a9a9a;font-weight:400;">You'll be able to use your credit after your free</div><div class="t" style="left:11.90px;top:64.39px;font-size:4.227px;line-height:4.227px;color:#9a9a9a;font-weight:400;">trial, as long as you stay subscribed to Prime. It's</div><div class="t" style="left:11.90px;top:70.52px;font-size:4.16px;line-height:4.16px;color:#9a9a9a;font-weight:400;">valid for 12 months.</div><svg class="r" style="left:2.80px;top:76.90px" width="8" height="8" viewBox="-4.0 -4.0 8 8"><path d="M-1.3 0.1L-0.5 0.9L1.3 -1" stroke="#7fb79b" stroke-width="0.55" fill="none"/></svg><div class="t" style="left:11.90px;top:79.59px;font-size:4.218px;line-height:4.218px;color:#9a9a9a;font-weight:400;">You can cancel 2 flights per year, up to 24 hours</div><div class="t" style="left:11.90px;top:85.67px;font-size:4.262px;line-height:4.262px;color:#9a9a9a;font-weight:400;">before departure.</div><svg class="r" style="left:2.80px;top:92.10px" width="8" height="8" viewBox="-4.0 -4.0 8 8"><path d="M-1.3 0.1L-0.5 0.9L1.3 -1" stroke="#7fb79b" stroke-width="0.55" fill="none"/></svg><div class="t" style="left:11.90px;top:94.78px;font-size:4.25px;line-height:4.25px;color:#9a9a9a;font-weight:400;">Refunds are based on the cost of your flight.</div><div class="t" style="left:11.90px;top:101.06px;font-size:4.29px;line-height:4.29px;color:#9a9a9a;font-weight:400;">Bags and extras aren't included in the refund</div><div class="t" style="left:11.90px;top:107.36px;font-size:4.276px;line-height:4.276px;color:#9a9a9a;font-weight:400;">amount. Refund credit can't be exchanged for</div><div class="t" style="left:11.90px;top:113.53px;font-size:4.142px;line-height:4.142px;color:#9a9a9a;font-weight:400;">cash.</div><svg class="r" style="left:2.80px;top:119.90px" width="8" height="8" viewBox="-4.0 -4.0 8 8"><path d="M-1.3 0.1L-0.5 0.9L1.3 -1" stroke="#7fb79b" stroke-width="0.55" fill="none"/></svg><div class="t" style="left:11.90px;top:122.55px;font-size:4.293px;line-height:4.293px;color:#9a9a9a;font-weight:400;">By requesting a cancellation for credit, you</div><div class="t" style="left:11.90px;top:128.72px;font-size:4.369px;line-height:4.369px;color:#9a9a9a;font-weight:400;">forfeit your right to apply for a refund with the</div><div class="t" style="left:11.90px;top:135.36px;font-size:4.086px;line-height:4.086px;color:#9a9a9a;font-weight:400;">airline(s).</div><div class="t" style="left:5.00px;top:145.97px;font-size:3.66px;line-height:3.66px;color:#b8b8b8;font-weight:400;">See terms and conditions</div></div>
<div class="r" style="left:997.50px;top:718.60px;width:80.60px;height:19.10px;background:#fff;"></div><div class="t" style="left:1004.70px;top:726.30px;font-size:4.593px;line-height:4.593px;color:#111;font-weight:700;">Mobile: Download the app</div><div class="r" style="left:997.50px;top:740.90px;width:80.60px;height:19.10px;background:#fff;"></div><div class="t" style="left:1004.70px;top:748.66px;font-size:4.473px;line-height:4.473px;color:#111;font-weight:700;">App: Wallet</div><div class="r" style="left:997.50px;top:763.20px;width:80.60px;height:19.10px;background:#fff;"></div><div class="t" style="left:1004.70px;top:770.88px;font-size:4.64px;line-height:4.64px;color:#111;font-weight:700;">Desktop: <u style="text-decoration-thickness:0.35px">Download the app</u></div><svg class="r" style="left:1067px;top:770px" width="4" height="4" viewBox="0 0 4 4"><path d="M1.5 2.5L2.5 1.5M1.2 1.8L0.6 2.4Q0 3.2 0.8 3.4Q1.2 3.6 1.6 3.2L2.2 2.6M1.8 1.4L2.4 0.8Q3 0.2 3.4 0.8Q3.6 1.2 3.2 1.6L2.6 2.2" stroke="#888" stroke-width="0.4" fill="none"/></svg><div class="r" style="left:693.30px;top:937.50px;width:75.70px;height:19.90px;background:#fff;"></div><div class="t" style="left:531.00px;width:400px;text-align:center;top:945.45px;font-size:4.696px;line-height:4.696px;color:#111;font-weight:700;">Regular Cancellation funnel</div>
<div class="r" style="left:1177.10px;top:118.10px;width:675.90px;height:278.30px;background:#f4f4f4;border:1.2px solid #b0b0b0;box-sizing:border-box;"></div><div class="r" style="left:1187.80px;top:129.40px;width:208.00px;height:37.60px;background:#fff;border:1px solid #d6d6d6;border-radius:6px;box-sizing:border-box;"></div><div class="t" style="left:1197.80px;top:138.58px;font-size:19.017px;line-height:19.017px;color:#111;font-weight:400;-webkit-text-stroke:0.6px #111;">Next steps - Free Trial</div><div class="t" style="left:1247.00px;top:172.33px;font-size:18.748px;line-height:18.748px;color:#c6c6c6;font-weight:400;">Next Steps</div><div class="t" style="left:1426.50px;top:177.33px;font-size:18.748px;line-height:18.748px;color:#c6c6c6;font-weight:400;">Next Steps</div><div class="t" style="left:1604.50px;top:137.23px;font-size:18.748px;line-height:18.748px;color:#c6c6c6;font-weight:400;">Next Steps</div><div class="f" style="left:1247.0px;top:199.6px;width:108.8px;height:102.6px;"><svg class="r" style="left:3.40px;top:2.50px" width="8" height="8" viewBox="-4.0 -4.0 8 8"><path d="M-1.55 -1.55L1.55 1.55M1.55 -1.55L-1.55 1.55" stroke="#1a1a1a" stroke-width="0.95"/></svg><div class="r" style="left:0.00px;top:13.20px;width:108.80px;height:0.50px;background:#f8f8f8;"></div><div class="t" style="left:4.40px;top:21.17px;font-size:5.853px;line-height:5.853px;color:#222;font-weight:700;">Next steps</div><svg class="r" style="left:3.40px;top:33.90px" width="8" height="8" viewBox="-4.0 -4.0 8 8"><circle r="2.65" fill="#0d4fa0"/><path d="M-0.5 -0.9 L0.25 -1.35 V1.35" stroke="#fff" stroke-width="0.55" fill="none"/></svg><div class="t" style="left:14.60px;top:35.97px;font-size:4.657px;line-height:4.657px;color:#222;font-weight:700;">Download the app</div><div class="t" style="left:13.70px;top:45.29px;font-size:4.213px;line-height:4.213px;color:#9a9a9a;font-weight:400;">Your credit will be available in your wallet</div><div class="t" style="left:13.70px;top:51.29px;font-size:4.416px;line-height:4.416px;color:#9a9a9a;font-weight:400;"><span style="color:#1a5fb0">in the app</span> after the free trial</div><div class="r" style="left:13.70px;top:54.50px;width:18.50px;height:0.30px;background:#7aa0d0;"></div><svg class="r" style="left:3.40px;top:60.60px" width="8" height="8" viewBox="-4.0 -4.0 8 8"><circle r="2.65" fill="#0d4fa0"/><path d="M-0.8 -0.6 Q-0.7 -1.35 0 -1.35 Q0.8 -1.35 0.8 -0.6 Q0.8 -0.1 -0.85 1.3 H0.9" stroke="#fff" stroke-width="0.55" fill="none"/></svg><div class="t" style="left:14.60px;top:62.68px;font-size:4.644px;line-height:4.644px;color:#222;font-weight:700;">Use your credit on any flight</div><div class="t" style="left:13.70px;top:71.98px;font-size:4.238px;line-height:4.238px;color:#9a9a9a;font-weight:400;">We'll give you the option to pay with your credit</div><div class="t" style="left:13.70px;top:78.38px;font-size:4.236px;line-height:4.236px;color:#9a9a9a;font-weight:400;">at checkout when you book in the app.</div><div class="t" style="left:13.70px;top:88.11px;font-size:4.39px;line-height:4.39px;color:#13856b;font-weight:400;">Safe travels!</div></div><div class="f" style="left:1425.8px;top:204.8px;width:108.8px;height:102.2px;"><svg class="r" style="left:3.40px;top:2.50px" width="8" height="8" viewBox="-4.0 -4.0 8 8"><path d="M-1.55 -1.55L1.55 1.55M1.55 -1.55L-1.55 1.55" stroke="#1a1a1a" stroke-width="0.95"/></svg><div class="r" style="left:0.00px;top:13.20px;width:108.80px;height:0.50px;background:#f8f8f8;"></div><div class="t" style="left:4.20px;top:21.64px;font-size:5.912px;line-height:5.912px;color:#222;font-weight:700;">Next steps</div><svg class="r" style="left:3.50px;top:34.00px" width="8" height="8" viewBox="-4.0 -4.0 8 8"><circle r="2.65" fill="#0d4fa0"/><path d="M-0.5 -0.9 L0.25 -1.35 V1.35" stroke="#fff" stroke-width="0.55" fill="none"/></svg><div class="t" style="left:14.60px;top:36.10px;font-size:4.605px;line-height:4.605px;color:#222;font-weight:700;">Open your wallet</div><svg class="r" style="left:53.00px;top:34.00px" width="8" height="8" viewBox="-4.0 -4.0 8 8"><rect x="-2.1" y="-1.4" width="4.2" height="3.2" rx="0.5" stroke="#aaa" stroke-width="0.4" fill="none"/><path d="M-1.5 -1.4L0.9 -2.1" stroke="#aaa" stroke-width="0.4"/></svg><div class="t" style="left:13.70px;top:45.50px;font-size:4.207px;line-height:4.207px;color:#9a9a9a;font-weight:400;">Your credit will be available in your wallet</div><svg class="r" style="left:3.50px;top:54.00px" width="8" height="8" viewBox="-4.0 -4.0 8 8"><circle r="2.65" fill="#0d4fa0"/><path d="M-0.8 -0.6 Q-0.7 -1.35 0 -1.35 Q0.8 -1.35 0.8 -0.6 Q0.8 -0.1 -0.85 1.3 H0.9" stroke="#fff" stroke-width="0.55" fill="none"/></svg><div class="t" style="left:14.60px;top:56.07px;font-size:4.651px;line-height:4.651px;color:#222;font-weight:700;">Use your credit on any flight</div><div class="t" style="left:13.70px;top:65.78px;font-size:4.247px;line-height:4.247px;color:#9a9a9a;font-weight:400;">We'll give you the option to pay with your credit</div><div class="t" style="left:13.70px;top:72.16px;font-size:4.286px;line-height:4.286px;color:#9a9a9a;font-weight:400;">at checkout when you book on the app after the</div><div class="t" style="left:13.70px;top:78.64px;font-size:4.113px;line-height:4.113px;color:#9a9a9a;font-weight:400;">free trial.</div><div class="t" style="left:13.70px;top:88.51px;font-size:4.39px;line-height:4.39px;color:#13856b;font-weight:400;">Safe travels!</div></div><div class="f" style="left:1604.5px;top:164.6px;width:185.2px;height:142.4px;"><svg class="r" style="left:3.90px;top:2.50px" width="8" height="8" viewBox="-4.0 -4.0 8 8"><path d="M-1.55 -1.55L1.55 1.55M1.55 -1.55L-1.55 1.55" stroke="#1a1a1a" stroke-width="0.95"/></svg><div class="r" style="left:40.00px;top:13.70px;width:108.00px;height:0.50px;background:#f6f6f6;"></div><div class="t" style="left:4.80px;top:21.28px;font-size:5.843px;line-height:5.843px;color:#222;font-weight:700;">Next Steps</div><svg class="r" style="left:3.90px;top:33.40px" width="8" height="8" viewBox="-4.0 -4.0 8 8"><circle r="2.65" fill="#0d4fa0"/><path d="M-0.5 -0.9 L0.25 -1.35 V1.35" stroke="#fff" stroke-width="0.55" fill="none"/></svg><div class="t" style="left:14.70px;top:35.44px;font-size:4.727px;line-height:4.727px;color:#222;font-weight:700;">Download the app</div><div class="t" style="left:14.70px;top:45.21px;font-size:4.185px;line-height:4.185px;color:#9a9a9a;font-weight:400;">Your credit will be available in your wallet in the app.</div><svg class="r" style="left:13.50px;top:53.20px" width="24" height="24" viewBox="0 0 25 25"><g fill="#111"><rect x="0" y="0" width="1.02" height="1.02"/><rect x="1" y="0" width="1.02" height="1.02"/><rect x="2" y="0" width="1.02" height="1.02"/><rect x="3" y="0" width="1.02" height="1.02"/><rect x="4" y="0" width="1.02" height="1.02"/><rect x="5" y="0" width="1.02" height="1.02"/><rect x="6" y="0" width="1.02" height="1.02"/><rect x="7" y="0" width="1.02" height="1.02"/><rect x="8" y="0" width="1.02" height="1.02"/><rect x="10" y="0" width="1.02" height="1.02"/><rect x="12" y="0" width="1.02" height="1.02"/><rect x="13" y="0" width="1.02" height="1.02"/><rect x="15" y="0" width="1.02" height="1.02"/><rect x="16" y="0" width="1.02" height="1.02"/><rect x="17" y="0" width="1.02" height="1.02"/><rect x="18" y="0" width="1.02" height="1.02"/><rect x="19" y="0" width="1.02" height="1.02"/><rect x="20" y="0" width="1.02" height="1.02"/><rect x="21" y="0" width="1.02" height="1.02"/><rect x="22" y="0" width="1.02" height="1.02"/><rect x="23" y="0" width="1.02" height="1.02"/><rect x="24" y="0" width="1.02" height="1.02"/><rect x="0" y="1" width="1.02" height="1.02"/><rect x="6" y="1" width="1.02" height="1.02"/><rect x="7" y="1" width="1.02" height="1.02"/><rect x="8" y="1" width="1.02" height="1.02"/><rect x="10" y="1" width="1.02" height="1.02"/><rect x="11" y="1" width="1.02" height="1.02"/><rect x="15" y="1" width="1.02" height="1.02"/><rect x="17" y="1" width="1.02" height="1.02"/><rect x="18" y="1" width="1.02" height="1.02"/><rect x="24" y="1" width="1.02" height="1.02"/><rect x="0" y="2" width="1.02" height="1.02"/><rect x="2" y="2" width="1.02" height="1.02"/><rect x="3" y="2" width="1.02" height="1.02"/><rect x="4" y="2" width="1.02" height="1.02"/><rect x="6" y="2" width="1.02" height="1.02"/><rect x="8" y="2" width="1.02" height="1.02"/><rect x="9" y="2" width="1.02" height="1.02"/><rect x="10" y="2" width="1.02" height="1.02"/><rect x="11" y="2" width="1.02" height="1.02"/><rect x="13" y="2" width="1.02" height="1.02"/><rect x="16" y="2" width="1.02" height="1.02"/><rect x="18" y="2" width="1.02" height="1.02"/><rect x="20" y="2" width="1.02" height="1.02"/><rect x="21" y="2" width="1.02" height="1.02"/><rect x="22" y="2" width="1.02" height="1.02"/><rect x="24" y="2" width="1.02" height="1.02"/><rect x="0" y="3" width="1.02" height="1.02"/><rect x="2" y="3" width="1.02" height="1.02"/><rect x="3" y="3" width="1.02" height="1.02"/><rect x="4" y="3" width="1.02" height="1.02"/><rect x="6" y="3" width="1.02" height="1.02"/><rect x="7" y="3" width="1.02" height="1.02"/><rect x="8" y="3" width="1.02" height="1.02"/><rect x="9" y="3" width="1.02" height="1.02"/><rect x="11" y="3" width="1.02" height="1.02"/><rect x="12" y="3" width="1.02" height="1.02"/><rect x="14" y="3" width="1.02" height="1.02"/><rect x="15" y="3" width="1.02" height="1.02"/><rect x="18" y="3" width="1.02" height="1.02"/><rect x="20" y="3" width="1.02" height="1.02"/><rect x="21" y="3" width="1.02" height="1.02"/><rect x="22" y="3" width="1.02" height="1.02"/><rect x="24" y="3" width="1.02" height="1.02"/><rect x="0" y="4" width="1.02" height="1.02"/><rect x="2" y="4" width="1.02" height="1.02"/><rect x="3" y="4" width="1.02" height="1.02"/><rect x="4" y="4" width="1.02" height="1.02"/><rect x="6" y="4" width="1.02" height="1.02"/><rect x="7" y="4" width="1.02" height="1.02"/><rect x="12" y="4" width="1.02" height="1.02"/><rect x="14" y="4" width="1.02" height="1.02"/><rect x="15" y="4" width="1.02" height="1.02"/><rect x="17" y="4" width="1.02" height="1.02"/><rect x="18" y="4" width="1.02" height="1.02"/><rect x="20" y="4" width="1.02" height="1.02"/><rect x="21" y="4" width="1.02" height="1.02"/><rect x="22" y="4" width="1.02" height="1.02"/><rect x="24" y="4" width="1.02" height="1.02"/><rect x="0" y="5" width="1.02" height="1.02"/><rect x="6" y="5" width="1.02" height="1.02"/><rect x="7" y="5" width="1.02" height="1.02"/><rect x="8" y="5" width="1.02" height="1.02"/><rect x="13" y="5" width="1.02" height="1.02"/><rect x="17" y="5" width="1.02" height="1.02"/><rect x="18" y="5" width="1.02" height="1.02"/><rect x="24" y="5" width="1.02" height="1.02"/><rect x="0" y="6" width="1.02" height="1.02"/><rect x="1" y="6" width="1.02" height="1.02"/><rect x="2" y="6" width="1.02" height="1.02"/><rect x="3" y="6" width="1.02" height="1.02"/><rect x="4" y="6" width="1.02" height="1.02"/><rect x="5" y="6" width="1.02" height="1.02"/><rect x="6" y="6" width="1.02" height="1.02"/><rect x="9" y="6" width="1.02" height="1.02"/><rect x="11" y="6" width="1.02" height="1.02"/><rect x="16" y="6" width="1.02" height="1.02"/><rect x="17" y="6" width="1.02" height="1.02"/><rect x="18" y="6" width="1.02" height="1.02"/><rect x="19" y="6" width="1.02" height="1.02"/><rect x="20" y="6" width="1.02" height="1.02"/><rect x="21" y="6" width="1.02" height="1.02"/><rect x="22" y="6" width="1.02" height="1.02"/><rect x="23" y="6" width="1.02" height="1.02"/><rect x="24" y="6" width="1.02" height="1.02"/><rect x="1" y="7" width="1.02" height="1.02"/><rect x="2" y="7" width="1.02" height="1.02"/><rect x="3" y="7" width="1.02" height="1.02"/><rect x="4" y="7" width="1.02" height="1.02"/><rect x="5" y="7" width="1.02" height="1.02"/><rect x="7" y="7" width="1.02" height="1.02"/><rect x="8" y="7" width="1.02" height="1.02"/><rect x="9" y="7" width="1.02" height="1.02"/><rect x="11" y="7" width="1.02" height="1.02"/><rect x="12" y="7" width="1.02" height="1.02"/><rect x="17" y="7" width="1.02" height="1.02"/><rect x="18" y="7" width="1.02" height="1.02"/><rect x="19" y="7" width="1.02" height="1.02"/><rect x="22" y="7" width="1.02" height="1.02"/><rect x="23" y="7" width="1.02" height="1.02"/><rect x="24" y="7" width="1.02" height="1.02"/><rect x="0" y="8" width="1.02" height="1.02"/><rect x="1" y="8" width="1.02" height="1.02"/><rect x="3" y="8" width="1.02" height="1.02"/><rect x="4" y="8" width="1.02" height="1.02"/><rect x="5" y="8" width="1.02" height="1.02"/><rect x="6" y="8" width="1.02" height="1.02"/><rect x="13" y="8" width="1.02" height="1.02"/><rect x="18" y="8" width="1.02" height="1.02"/><rect x="19" y="8" width="1.02" height="1.02"/><rect x="20" y="8" width="1.02" height="1.02"/><rect x="22" y="8" width="1.02" height="1.02"/><rect x="23" y="8" width="1.02" height="1.02"/><rect x="24" y="8" width="1.02" height="1.02"/><rect x="0" y="9" width="1.02" height="1.02"/><rect x="1" y="9" width="1.02" height="1.02"/><rect x="2" y="9" width="1.02" height="1.02"/><rect x="3" y="9" width="1.02" height="1.02"/><rect x="4" y="9" width="1.02" height="1.02"/><rect x="5" y="9" width="1.02" height="1.02"/><rect x="6" y="9" width="1.02" height="1.02"/><rect x="7" y="9" width="1.02" height="1.02"/><rect x="10" y="9" width="1.02" height="1.02"/><rect x="11" y="9" width="1.02" height="1.02"/><rect x="12" y="9" width="1.02" height="1.02"/><rect x="13" y="9" width="1.02" height="1.02"/><rect x="14" y="9" width="1.02" height="1.02"/><rect x="17" y="9" width="1.02" height="1.02"/><rect x="18" y="9" width="1.02" height="1.02"/><rect x="19" y="9" width="1.02" height="1.02"/><rect x="20" y="9" width="1.02" height="1.02"/><rect x="21" y="9" width="1.02" height="1.02"/><rect x="22" y="9" width="1.02" height="1.02"/><rect x="24" y="9" width="1.02" height="1.02"/><rect x="0" y="10" width="1.02" height="1.02"/><rect x="3" y="10" width="1.02" height="1.02"/><rect x="5" y="10" width="1.02" height="1.02"/><rect x="10" y="10" width="1.02" height="1.02"/><rect x="11" y="10" width="1.02" height="1.02"/><rect x="12" y="10" width="1.02" height="1.02"/><rect x="16" y="10" width="1.02" height="1.02"/><rect x="17" y="10" width="1.02" height="1.02"/><rect x="24" y="10" width="1.02" height="1.02"/><rect x="1" y="11" width="1.02" height="1.02"/><rect x="2" y="11" width="1.02" height="1.02"/><rect x="3" y="11" width="1.02" height="1.02"/><rect x="4" y="11" width="1.02" height="1.02"/><rect x="5" y="11" width="1.02" height="1.02"/><rect x="8" y="11" width="1.02" height="1.02"/><rect x="12" y="11" width="1.02" height="1.02"/><rect x="13" y="11" width="1.02" height="1.02"/><rect x="14" y="11" width="1.02" height="1.02"/><rect x="15" y="11" width="1.02" height="1.02"/><rect x="16" y="11" width="1.02" height="1.02"/><rect x="20" y="11" width="1.02" height="1.02"/><rect x="23" y="11" width="1.02" height="1.02"/><rect x="3" y="12" width="1.02" height="1.02"/><rect x="4" y="12" width="1.02" height="1.02"/><rect x="6" y="12" width="1.02" height="1.02"/><rect x="9" y="12" width="1.02" height="1.02"/><rect x="10" y="12" width="1.02" height="1.02"/><rect x="13" y="12" width="1.02" height="1.02"/><rect x="14" y="12" width="1.02" height="1.02"/><rect x="15" y="12" width="1.02" height="1.02"/><rect x="18" y="12" width="1.02" height="1.02"/><rect x="22" y="12" width="1.02" height="1.02"/><rect x="24" y="12" width="1.02" height="1.02"/><rect x="0" y="13" width="1.02" height="1.02"/><rect x="5" y="13" width="1.02" height="1.02"/><rect x="8" y="13" width="1.02" height="1.02"/><rect x="9" y="13" width="1.02" height="1.02"/><rect x="10" y="13" width="1.02" height="1.02"/><rect x="11" y="13" width="1.02" height="1.02"/><rect x="13" y="13" width="1.02" height="1.02"/><rect x="14" y="13" width="1.02" height="1.02"/><rect x="15" y="13" width="1.02" height="1.02"/><rect x="17" y="13" width="1.02" height="1.02"/><rect x="18" y="13" width="1.02" height="1.02"/><rect x="21" y="13" width="1.02" height="1.02"/><rect x="1" y="14" width="1.02" height="1.02"/><rect x="2" y="14" width="1.02" height="1.02"/><rect x="3" y="14" width="1.02" height="1.02"/><rect x="4" y="14" width="1.02" height="1.02"/><rect x="6" y="14" width="1.02" height="1.02"/><rect x="7" y="14" width="1.02" height="1.02"/><rect x="10" y="14" width="1.02" height="1.02"/><rect x="14" y="14" width="1.02" height="1.02"/><rect x="16" y="14" width="1.02" height="1.02"/><rect x="17" y="14" width="1.02" height="1.02"/><rect x="23" y="14" width="1.02" height="1.02"/><rect x="3" y="15" width="1.02" height="1.02"/><rect x="5" y="15" width="1.02" height="1.02"/><rect x="10" y="15" width="1.02" height="1.02"/><rect x="14" y="15" width="1.02" height="1.02"/><rect x="15" y="15" width="1.02" height="1.02"/><rect x="16" y="15" width="1.02" height="1.02"/><rect x="17" y="15" width="1.02" height="1.02"/><rect x="18" y="15" width="1.02" height="1.02"/><rect x="19" y="15" width="1.02" height="1.02"/><rect x="23" y="15" width="1.02" height="1.02"/><rect x="1" y="16" width="1.02" height="1.02"/><rect x="4" y="16" width="1.02" height="1.02"/><rect x="6" y="16" width="1.02" height="1.02"/><rect x="7" y="16" width="1.02" height="1.02"/><rect x="10" y="16" width="1.02" height="1.02"/><rect x="11" y="16" width="1.02" height="1.02"/><rect x="13" y="16" width="1.02" height="1.02"/><rect x="14" y="16" width="1.02" height="1.02"/><rect x="15" y="16" width="1.02" height="1.02"/><rect x="17" y="16" width="1.02" height="1.02"/><rect x="19" y="16" width="1.02" height="1.02"/><rect x="20" y="16" width="1.02" height="1.02"/><rect x="21" y="16" width="1.02" height="1.02"/><rect x="24" y="16" width="1.02" height="1.02"/><rect x="3" y="17" width="1.02" height="1.02"/><rect x="4" y="17" width="1.02" height="1.02"/><rect x="5" y="17" width="1.02" height="1.02"/><rect x="7" y="17" width="1.02" height="1.02"/><rect x="8" y="17" width="1.02" height="1.02"/><rect x="9" y="17" width="1.02" height="1.02"/><rect x="12" y="17" width="1.02" height="1.02"/><rect x="13" y="17" width="1.02" height="1.02"/><rect x="17" y="17" width="1.02" height="1.02"/><rect x="18" y="17" width="1.02" height="1.02"/><rect x="20" y="17" width="1.02" height="1.02"/><rect x="21" y="17" width="1.02" height="1.02"/><rect x="0" y="18" width="1.02" height="1.02"/><rect x="1" y="18" width="1.02" height="1.02"/><rect x="2" y="18" width="1.02" height="1.02"/><rect x="3" y="18" width="1.02" height="1.02"/><rect x="4" y="18" width="1.02" height="1.02"/><rect x="5" y="18" width="1.02" height="1.02"/><rect x="6" y="18" width="1.02" height="1.02"/><rect x="7" y="18" width="1.02" height="1.02"/><rect x="9" y="18" width="1.02" height="1.02"/><rect x="11" y="18" width="1.02" height="1.02"/><rect x="12" y="18" width="1.02" height="1.02"/><rect x="15" y="18" width="1.02" height="1.02"/><rect x="16" y="18" width="1.02" height="1.02"/><rect x="18" y="18" width="1.02" height="1.02"/><rect x="19" y="18" width="1.02" height="1.02"/><rect x="20" y="18" width="1.02" height="1.02"/><rect x="21" y="18" width="1.02" height="1.02"/><rect x="22" y="18" width="1.02" height="1.02"/><rect x="23" y="18" width="1.02" height="1.02"/><rect x="24" y="18" width="1.02" height="1.02"/><rect x="0" y="19" width="1.02" height="1.02"/><rect x="6" y="19" width="1.02" height="1.02"/><rect x="8" y="19" width="1.02" height="1.02"/><rect x="10" y="19" width="1.02" height="1.02"/><rect x="11" y="19" width="1.02" height="1.02"/><rect x="12" y="19" width="1.02" height="1.02"/><rect x="13" y="19" width="1.02" height="1.02"/><rect x="14" y="19" width="1.02" height="1.02"/><rect x="17" y="19" width="1.02" height="1.02"/><rect x="18" y="19" width="1.02" height="1.02"/><rect x="20" y="19" width="1.02" height="1.02"/><rect x="22" y="19" width="1.02" height="1.02"/><rect x="23" y="19" width="1.02" height="1.02"/><rect x="0" y="20" width="1.02" height="1.02"/><rect x="2" y="20" width="1.02" height="1.02"/><rect x="3" y="20" width="1.02" height="1.02"/><rect x="4" y="20" width="1.02" height="1.02"/><rect x="6" y="20" width="1.02" height="1.02"/><rect x="7" y="20" width="1.02" height="1.02"/><rect x="11" y="20" width="1.02" height="1.02"/><rect x="15" y="20" width="1.02" height="1.02"/><rect x="16" y="20" width="1.02" height="1.02"/><rect x="17" y="20" width="1.02" height="1.02"/><rect x="18" y="20" width="1.02" height="1.02"/><rect x="19" y="20" width="1.02" height="1.02"/><rect x="21" y="20" width="1.02" height="1.02"/><rect x="22" y="20" width="1.02" height="1.02"/><rect x="23" y="20" width="1.02" height="1.02"/><rect x="0" y="21" width="1.02" height="1.02"/><rect x="2" y="21" width="1.02" height="1.02"/><rect x="3" y="21" width="1.02" height="1.02"/><rect x="4" y="21" width="1.02" height="1.02"/><rect x="6" y="21" width="1.02" height="1.02"/><rect x="9" y="21" width="1.02" height="1.02"/><rect x="10" y="21" width="1.02" height="1.02"/><rect x="11" y="21" width="1.02" height="1.02"/><rect x="12" y="21" width="1.02" height="1.02"/><rect x="13" y="21" width="1.02" height="1.02"/><rect x="14" y="21" width="1.02" height="1.02"/><rect x="15" y="21" width="1.02" height="1.02"/><rect x="19" y="21" width="1.02" height="1.02"/><rect x="21" y="21" width="1.02" height="1.02"/><rect x="22" y="21" width="1.02" height="1.02"/><rect x="23" y="21" width="1.02" height="1.02"/><rect x="24" y="21" width="1.02" height="1.02"/><rect x="0" y="22" width="1.02" height="1.02"/><rect x="2" y="22" width="1.02" height="1.02"/><rect x="3" y="22" width="1.02" height="1.02"/><rect x="4" y="22" width="1.02" height="1.02"/><rect x="6" y="22" width="1.02" height="1.02"/><rect x="7" y="22" width="1.02" height="1.02"/><rect x="9" y="22" width="1.02" height="1.02"/><rect x="11" y="22" width="1.02" height="1.02"/><rect x="12" y="22" width="1.02" height="1.02"/><rect x="13" y="22" width="1.02" height="1.02"/><rect x="14" y="22" width="1.02" height="1.02"/><rect x="15" y="22" width="1.02" height="1.02"/><rect x="16" y="22" width="1.02" height="1.02"/><rect x="17" y="22" width="1.02" height="1.02"/><rect x="18" y="22" width="1.02" height="1.02"/><rect x="0" y="23" width="1.02" height="1.02"/><rect x="6" y="23" width="1.02" height="1.02"/><rect x="7" y="23" width="1.02" height="1.02"/><rect x="8" y="23" width="1.02" height="1.02"/><rect x="10" y="23" width="1.02" height="1.02"/><rect x="13" y="23" width="1.02" height="1.02"/><rect x="19" y="23" width="1.02" height="1.02"/><rect x="0" y="24" width="1.02" height="1.02"/><rect x="1" y="24" width="1.02" height="1.02"/><rect x="2" y="24" width="1.02" height="1.02"/><rect x="3" y="24" width="1.02" height="1.02"/><rect x="4" y="24" width="1.02" height="1.02"/><rect x="5" y="24" width="1.02" height="1.02"/><rect x="6" y="24" width="1.02" height="1.02"/><rect x="11" y="24" width="1.02" height="1.02"/><rect x="12" y="24" width="1.02" height="1.02"/><rect x="13" y="24" width="1.02" height="1.02"/><rect x="14" y="24" width="1.02" height="1.02"/><rect x="15" y="24" width="1.02" height="1.02"/><rect x="21" y="24" width="1.02" height="1.02"/><rect x="22" y="24" width="1.02" height="1.02"/></g></svg><svg class="r" style="left:3.90px;top:80.80px" width="8" height="8" viewBox="-4.0 -4.0 8 8"><circle r="2.65" fill="#0d4fa0"/><path d="M-0.8 -0.6 Q-0.7 -1.35 0 -1.35 Q0.8 -1.35 0.8 -0.6 Q0.8 -0.1 -0.85 1.3 H0.9" stroke="#fff" stroke-width="0.55" fill="none"/></svg><div class="t" style="left:14.70px;top:82.87px;font-size:4.659px;line-height:4.659px;color:#222;font-weight:700;">Use your credit on any flight in the app</div><svg class="r" style="left:101.50px;top:80.80px" width="8" height="8" viewBox="-4.0 -4.0 8 8"><rect x="-2.1" y="-1.4" width="4.2" height="3.2" rx="0.5" stroke="#aaa" stroke-width="0.4" fill="none"/><path d="M-1.5 -1.4L0.9 -2.1" stroke="#aaa" stroke-width="0.4"/></svg><div class="t" style="left:14.70px;top:92.27px;font-size:4.262px;line-height:4.262px;color:#9a9a9a;font-weight:400;">We'll give you the option to pay with credit at checkout when you book in the app after</div><div class="t" style="left:14.70px;top:98.29px;font-size:4.228px;line-height:4.228px;color:#9a9a9a;font-weight:400;">the free trial.</div><svg class="r" style="left:3.90px;top:106.80px" width="8" height="8" viewBox="-4.0 -4.0 8 8"><circle r="2.65" fill="#0d4fa0"/><path d="M-0.8 -1.3 H0.8 L-0.05 -0.2 Q0.9 -0.15 0.9 0.55 Q0.9 1.35 0 1.35 Q-0.6 1.35 -0.9 0.95" stroke="#fff" stroke-width="0.55" fill="none"/></svg><div class="t" style="left:14.70px;top:108.89px;font-size:4.617px;line-height:4.617px;color:#222;font-weight:700;">Book a trip in the app</div><div class="t" style="left:14.70px;top:118.91px;font-size:4.19px;line-height:4.19px;color:#9a9a9a;font-weight:400;">On the payment page in the app, we'll ask you if you want to pay in credit.</div><div class="t" style="left:14.70px;top:128.41px;font-size:4.39px;line-height:4.39px;color:#13856b;font-weight:400;">Safe travels!</div></div><div class="t" style="left:1101.10px;width:400px;text-align:center;top:329.19px;font-size:11.61px;line-height:11.61px;color:#3d3d3d;font-weight:400;-webkit-text-stroke:0.45px #3d3d3d;">Mobile</div><div class="t" style="left:1279.70px;width:400px;text-align:center;top:329.04px;font-size:11.915px;line-height:11.915px;color:#3d3d3d;font-weight:400;-webkit-text-stroke:0.45px #3d3d3d;">App</div><div class="t" style="left:1497.10px;width:400px;text-align:center;top:328.89px;font-size:12.212px;line-height:12.212px;color:#3d3d3d;font-weight:400;-webkit-text-stroke:0.45px #3d3d3d;">Desktop</div>
<div class="r" style="left:1177.10px;top:432.00px;width:675.90px;height:277.50px;background:#f4f4f4;border:1.2px solid #b0b0b0;box-sizing:border-box;"></div><div class="r" style="left:1187.80px;top:442.50px;width:250.00px;height:37.60px;background:#fff;border:1px solid #d6d6d6;border-radius:6px;box-sizing:border-box;"></div><div class="t" style="left:1197.80px;top:452.19px;font-size:18.997px;line-height:18.997px;color:#111;font-weight:400;-webkit-text-stroke:0.6px #111;">Next steps - Paid Members</div><div class="t" style="left:1247.00px;top:485.93px;font-size:18.748px;line-height:18.748px;color:#c6c6c6;font-weight:400;">Next Steps</div><div class="t" style="left:1426.50px;top:490.93px;font-size:18.748px;line-height:18.748px;color:#c6c6c6;font-weight:400;">Next Steps</div><div class="t" style="left:1604.50px;top:450.83px;font-size:18.748px;line-height:18.748px;color:#c6c6c6;font-weight:400;">Next Steps</div><div class="f" style="left:1246.7px;top:513.3px;width:108.9px;height:100.9px;"><svg class="r" style="left:3.40px;top:2.50px" width="8" height="8" viewBox="-4.0 -4.0 8 8"><path d="M-1.55 -1.55L1.55 1.55M1.55 -1.55L-1.55 1.55" stroke="#1a1a1a" stroke-width="0.95"/></svg><div class="r" style="left:0.00px;top:13.20px;width:108.90px;height:0.50px;background:#f8f8f8;"></div><div class="t" style="left:4.40px;top:21.17px;font-size:5.853px;line-height:5.853px;color:#222;font-weight:700;">Next steps</div><svg class="r" style="left:3.40px;top:33.90px" width="8" height="8" viewBox="-4.0 -4.0 8 8"><circle r="2.65" fill="#0d4fa0"/><path d="M-0.5 -0.9 L0.25 -1.35 V1.35" stroke="#fff" stroke-width="0.55" fill="none"/></svg><div class="t" style="left:14.60px;top:35.97px;font-size:4.657px;line-height:4.657px;color:#222;font-weight:700;">Download the app</div><div class="t" style="left:13.70px;top:44.99px;font-size:4.213px;line-height:4.213px;color:#9a9a9a;font-weight:400;">Your credit will be available in your wallet</div><div class="t" style="left:13.70px;top:51.09px;font-size:4.212px;line-height:4.212px;color:#9a9a9a;font-weight:400;"><span style="color:#1a5fb0">in the app</span></div><div class="r" style="left:13.70px;top:54.20px;width:18.50px;height:0.30px;background:#7aa0d0;"></div><svg class="r" style="left:3.40px;top:58.70px" width="8" height="8" viewBox="-4.0 -4.0 8 8"><circle r="2.65" fill="#0d4fa0"/><path d="M-0.8 -0.6 Q-0.7 -1.35 0 -1.35 Q0.8 -1.35 0.8 -0.6 Q0.8 -0.1 -0.85 1.3 H0.9" stroke="#fff" stroke-width="0.55" fill="none"/></svg><div class="t" style="left:14.60px;top:60.78px;font-size:4.644px;line-height:4.644px;color:#222;font-weight:700;">Use your credit on any flight</div><div class="t" style="left:13.70px;top:70.68px;font-size:4.238px;line-height:4.238px;color:#9a9a9a;font-weight:400;">We'll give you the option to pay with your credit</div><div class="t" style="left:13.70px;top:77.28px;font-size:4.236px;line-height:4.236px;color:#9a9a9a;font-weight:400;">at checkout when you book in the app.</div><div class="t" style="left:13.70px;top:86.61px;font-size:4.39px;line-height:4.39px;color:#13856b;font-weight:400;">Safe travels!</div></div><div class="f" style="left:1425.9px;top:518.0px;width:108.8px;height:96.2px;"><svg class="r" style="left:3.40px;top:2.50px" width="8" height="8" viewBox="-4.0 -4.0 8 8"><path d="M-1.55 -1.55L1.55 1.55M1.55 -1.55L-1.55 1.55" stroke="#1a1a1a" stroke-width="0.95"/></svg><div class="r" style="left:0.00px;top:13.20px;width:108.80px;height:0.50px;background:#f8f8f8;"></div><div class="t" style="left:4.20px;top:21.64px;font-size:5.912px;line-height:5.912px;color:#222;font-weight:700;">Next steps</div><svg class="r" style="left:3.50px;top:34.00px" width="8" height="8" viewBox="-4.0 -4.0 8 8"><circle r="2.65" fill="#0d4fa0"/><path d="M-0.5 -0.9 L0.25 -1.35 V1.35" stroke="#fff" stroke-width="0.55" fill="none"/></svg><div class="t" style="left:14.60px;top:36.10px;font-size:4.605px;line-height:4.605px;color:#222;font-weight:700;">Open your wallet</div><svg class="r" style="left:53.00px;top:34.00px" width="8" height="8" viewBox="-4.0 -4.0 8 8"><rect x="-2.1" y="-1.4" width="4.2" height="3.2" rx="0.5" stroke="#aaa" stroke-width="0.4" fill="none"/><path d="M-1.5 -1.4L0.9 -2.1" stroke="#aaa" stroke-width="0.4"/></svg><div class="t" style="left:13.70px;top:45.50px;font-size:4.207px;line-height:4.207px;color:#9a9a9a;font-weight:400;">Your credit will be available in your wallet</div><svg class="r" style="left:3.50px;top:54.00px" width="8" height="8" viewBox="-4.0 -4.0 8 8"><circle r="2.65" fill="#0d4fa0"/><path d="M-0.8 -0.6 Q-0.7 -1.35 0 -1.35 Q0.8 -1.35 0.8 -0.6 Q0.8 -0.1 -0.85 1.3 H0.9" stroke="#fff" stroke-width="0.55" fill="none"/></svg><div class="t" style="left:14.60px;top:56.07px;font-size:4.651px;line-height:4.651px;color:#222;font-weight:700;">Use your credit on any flight</div><div class="t" style="left:13.70px;top:65.98px;font-size:4.247px;line-height:4.247px;color:#9a9a9a;font-weight:400;">We'll give you the option to pay with your credit</div><div class="t" style="left:13.70px;top:72.62px;font-size:4.155px;line-height:4.155px;color:#9a9a9a;font-weight:400;">at checkout when you book on the app.</div><div class="t" style="left:13.70px;top:81.91px;font-size:4.39px;line-height:4.39px;color:#13856b;font-weight:400;">Safe travels!</div></div><div class="f" style="left:1604.5px;top:477.5px;width:185.2px;height:136.6px;"><svg class="r" style="left:3.90px;top:2.50px" width="8" height="8" viewBox="-4.0 -4.0 8 8"><path d="M-1.55 -1.55L1.55 1.55M1.55 -1.55L-1.55 1.55" stroke="#1a1a1a" stroke-width="0.95"/></svg><div class="r" style="left:40.00px;top:13.70px;width:108.00px;height:0.50px;background:#f6f6f6;"></div><div class="t" style="left:4.80px;top:21.28px;font-size:5.843px;line-height:5.843px;color:#222;font-weight:700;">Next Steps</div><svg class="r" style="left:3.90px;top:33.40px" width="8" height="8" viewBox="-4.0 -4.0 8 8"><circle r="2.65" fill="#0d4fa0"/><path d="M-0.5 -0.9 L0.25 -1.35 V1.35" stroke="#fff" stroke-width="0.55" fill="none"/></svg><div class="t" style="left:14.70px;top:35.44px;font-size:4.727px;line-height:4.727px;color:#222;font-weight:700;">Download the app</div><div class="t" style="left:14.70px;top:45.21px;font-size:4.185px;line-height:4.185px;color:#9a9a9a;font-weight:400;">Your credit will be available in your wallet in the app.</div><svg class="r" style="left:13.50px;top:53.20px" width="24" height="24" viewBox="0 0 25 25"><g fill="#111"><rect x="0" y="0" width="1.02" height="1.02"/><rect x="1" y="0" width="1.02" height="1.02"/><rect x="2" y="0" width="1.02" height="1.02"/><rect x="3" y="0" width="1.02" height="1.02"/><rect x="4" y="0" width="1.02" height="1.02"/><rect x="5" y="0" width="1.02" height="1.02"/><rect x="6" y="0" width="1.02" height="1.02"/><rect x="10" y="0" width="1.02" height="1.02"/><rect x="12" y="0" width="1.02" height="1.02"/><rect x="13" y="0" width="1.02" height="1.02"/><rect x="14" y="0" width="1.02" height="1.02"/><rect x="16" y="0" width="1.02" height="1.02"/><rect x="18" y="0" width="1.02" height="1.02"/><rect x="19" y="0" width="1.02" height="1.02"/><rect x="20" y="0" width="1.02" height="1.02"/><rect x="21" y="0" width="1.02" height="1.02"/><rect x="22" y="0" width="1.02" height="1.02"/><rect x="23" y="0" width="1.02" height="1.02"/><rect x="24" y="0" width="1.02" height="1.02"/><rect x="0" y="1" width="1.02" height="1.02"/><rect x="6" y="1" width="1.02" height="1.02"/><rect x="8" y="1" width="1.02" height="1.02"/><rect x="9" y="1" width="1.02" height="1.02"/><rect x="10" y="1" width="1.02" height="1.02"/><rect x="15" y="1" width="1.02" height="1.02"/><rect x="16" y="1" width="1.02" height="1.02"/><rect x="17" y="1" width="1.02" height="1.02"/><rect x="18" y="1" width="1.02" height="1.02"/><rect x="24" y="1" width="1.02" height="1.02"/><rect x="0" y="2" width="1.02" height="1.02"/><rect x="2" y="2" width="1.02" height="1.02"/><rect x="3" y="2" width="1.02" height="1.02"/><rect x="4" y="2" width="1.02" height="1.02"/><rect x="6" y="2" width="1.02" height="1.02"/><rect x="8" y="2" width="1.02" height="1.02"/><rect x="10" y="2" width="1.02" height="1.02"/><rect x="11" y="2" width="1.02" height="1.02"/><rect x="12" y="2" width="1.02" height="1.02"/><rect x="16" y="2" width="1.02" height="1.02"/><rect x="18" y="2" width="1.02" height="1.02"/><rect x="20" y="2" width="1.02" height="1.02"/><rect x="21" y="2" width="1.02" height="1.02"/><rect x="22" y="2" width="1.02" height="1.02"/><rect x="24" y="2" width="1.02" height="1.02"/><rect x="0" y="3" width="1.02" height="1.02"/><rect x="2" y="3" width="1.02" height="1.02"/><rect x="3" y="3" width="1.02" height="1.02"/><rect x="4" y="3" width="1.02" height="1.02"/><rect x="6" y="3" width="1.02" height="1.02"/><rect x="7" y="3" width="1.02" height="1.02"/><rect x="8" y="3" width="1.02" height="1.02"/><rect x="9" y="3" width="1.02" height="1.02"/><rect x="11" y="3" width="1.02" height="1.02"/><rect x="14" y="3" width="1.02" height="1.02"/><rect x="15" y="3" width="1.02" height="1.02"/><rect x="18" y="3" width="1.02" height="1.02"/><rect x="20" y="3" width="1.02" height="1.02"/><rect x="21" y="3" width="1.02" height="1.02"/><rect x="22" y="3" width="1.02" height="1.02"/><rect x="24" y="3" width="1.02" height="1.02"/><rect x="0" y="4" width="1.02" height="1.02"/><rect x="2" y="4" width="1.02" height="1.02"/><rect x="3" y="4" width="1.02" height="1.02"/><rect x="4" y="4" width="1.02" height="1.02"/><rect x="6" y="4" width="1.02" height="1.02"/><rect x="7" y="4" width="1.02" height="1.02"/><rect x="8" y="4" width="1.02" height="1.02"/><rect x="9" y="4" width="1.02" height="1.02"/><rect x="11" y="4" width="1.02" height="1.02"/><rect x="13" y="4" width="1.02" height="1.02"/><rect x="16" y="4" width="1.02" height="1.02"/><rect x="18" y="4" width="1.02" height="1.02"/><rect x="20" y="4" width="1.02" height="1.02"/><rect x="21" y="4" width="1.02" height="1.02"/><rect x="22" y="4" width="1.02" height="1.02"/><rect x="24" y="4" width="1.02" height="1.02"/><rect x="0" y="5" width="1.02" height="1.02"/><rect x="6" y="5" width="1.02" height="1.02"/><rect x="10" y="5" width="1.02" height="1.02"/><rect x="12" y="5" width="1.02" height="1.02"/><rect x="13" y="5" width="1.02" height="1.02"/><rect x="14" y="5" width="1.02" height="1.02"/><rect x="15" y="5" width="1.02" height="1.02"/><rect x="16" y="5" width="1.02" height="1.02"/><rect x="17" y="5" width="1.02" height="1.02"/><rect x="18" y="5" width="1.02" height="1.02"/><rect x="24" y="5" width="1.02" height="1.02"/><rect x="0" y="6" width="1.02" height="1.02"/><rect x="1" y="6" width="1.02" height="1.02"/><rect x="2" y="6" width="1.02" height="1.02"/><rect x="3" y="6" width="1.02" height="1.02"/><rect x="4" y="6" width="1.02" height="1.02"/><rect x="5" y="6" width="1.02" height="1.02"/><rect x="6" y="6" width="1.02" height="1.02"/><rect x="7" y="6" width="1.02" height="1.02"/><rect x="8" y="6" width="1.02" height="1.02"/><rect x="9" y="6" width="1.02" height="1.02"/><rect x="11" y="6" width="1.02" height="1.02"/><rect x="14" y="6" width="1.02" height="1.02"/><rect x="18" y="6" width="1.02" height="1.02"/><rect x="19" y="6" width="1.02" height="1.02"/><rect x="20" y="6" width="1.02" height="1.02"/><rect x="21" y="6" width="1.02" height="1.02"/><rect x="22" y="6" width="1.02" height="1.02"/><rect x="23" y="6" width="1.02" height="1.02"/><rect x="24" y="6" width="1.02" height="1.02"/><rect x="0" y="7" width="1.02" height="1.02"/><rect x="1" y="7" width="1.02" height="1.02"/><rect x="2" y="7" width="1.02" height="1.02"/><rect x="5" y="7" width="1.02" height="1.02"/><rect x="6" y="7" width="1.02" height="1.02"/><rect x="7" y="7" width="1.02" height="1.02"/><rect x="8" y="7" width="1.02" height="1.02"/><rect x="9" y="7" width="1.02" height="1.02"/><rect x="11" y="7" width="1.02" height="1.02"/><rect x="13" y="7" width="1.02" height="1.02"/><rect x="14" y="7" width="1.02" height="1.02"/><rect x="16" y="7" width="1.02" height="1.02"/><rect x="17" y="7" width="1.02" height="1.02"/><rect x="1" y="8" width="1.02" height="1.02"/><rect x="3" y="8" width="1.02" height="1.02"/><rect x="6" y="8" width="1.02" height="1.02"/><rect x="7" y="8" width="1.02" height="1.02"/><rect x="9" y="8" width="1.02" height="1.02"/><rect x="10" y="8" width="1.02" height="1.02"/><rect x="11" y="8" width="1.02" height="1.02"/><rect x="12" y="8" width="1.02" height="1.02"/><rect x="15" y="8" width="1.02" height="1.02"/><rect x="17" y="8" width="1.02" height="1.02"/><rect x="19" y="8" width="1.02" height="1.02"/><rect x="20" y="8" width="1.02" height="1.02"/><rect x="21" y="8" width="1.02" height="1.02"/><rect x="22" y="8" width="1.02" height="1.02"/><rect x="24" y="8" width="1.02" height="1.02"/><rect x="0" y="9" width="1.02" height="1.02"/><rect x="3" y="9" width="1.02" height="1.02"/><rect x="4" y="9" width="1.02" height="1.02"/><rect x="5" y="9" width="1.02" height="1.02"/><rect x="6" y="9" width="1.02" height="1.02"/><rect x="7" y="9" width="1.02" height="1.02"/><rect x="8" y="9" width="1.02" height="1.02"/><rect x="9" y="9" width="1.02" height="1.02"/><rect x="10" y="9" width="1.02" height="1.02"/><rect x="14" y="9" width="1.02" height="1.02"/><rect x="15" y="9" width="1.02" height="1.02"/><rect x="17" y="9" width="1.02" height="1.02"/><rect x="18" y="9" width="1.02" height="1.02"/><rect x="19" y="9" width="1.02" height="1.02"/><rect x="20" y="9" width="1.02" height="1.02"/><rect x="22" y="9" width="1.02" height="1.02"/><rect x="1" y="10" width="1.02" height="1.02"/><rect x="2" y="10" width="1.02" height="1.02"/><rect x="3" y="10" width="1.02" height="1.02"/><rect x="4" y="10" width="1.02" height="1.02"/><rect x="5" y="10" width="1.02" height="1.02"/><rect x="9" y="10" width="1.02" height="1.02"/><rect x="10" y="10" width="1.02" height="1.02"/><rect x="13" y="10" width="1.02" height="1.02"/><rect x="15" y="10" width="1.02" height="1.02"/><rect x="16" y="10" width="1.02" height="1.02"/><rect x="21" y="10" width="1.02" height="1.02"/><rect x="22" y="10" width="1.02" height="1.02"/><rect x="23" y="10" width="1.02" height="1.02"/><rect x="5" y="11" width="1.02" height="1.02"/><rect x="7" y="11" width="1.02" height="1.02"/><rect x="9" y="11" width="1.02" height="1.02"/><rect x="12" y="11" width="1.02" height="1.02"/><rect x="13" y="11" width="1.02" height="1.02"/><rect x="14" y="11" width="1.02" height="1.02"/><rect x="17" y="11" width="1.02" height="1.02"/><rect x="18" y="11" width="1.02" height="1.02"/><rect x="21" y="11" width="1.02" height="1.02"/><rect x="22" y="11" width="1.02" height="1.02"/><rect x="24" y="11" width="1.02" height="1.02"/><rect x="0" y="12" width="1.02" height="1.02"/><rect x="1" y="12" width="1.02" height="1.02"/><rect x="5" y="12" width="1.02" height="1.02"/><rect x="6" y="12" width="1.02" height="1.02"/><rect x="7" y="12" width="1.02" height="1.02"/><rect x="10" y="12" width="1.02" height="1.02"/><rect x="11" y="12" width="1.02" height="1.02"/><rect x="12" y="12" width="1.02" height="1.02"/><rect x="14" y="12" width="1.02" height="1.02"/><rect x="15" y="12" width="1.02" height="1.02"/><rect x="18" y="12" width="1.02" height="1.02"/><rect x="19" y="12" width="1.02" height="1.02"/><rect x="20" y="12" width="1.02" height="1.02"/><rect x="21" y="12" width="1.02" height="1.02"/><rect x="23" y="12" width="1.02" height="1.02"/><rect x="2" y="13" width="1.02" height="1.02"/><rect x="4" y="13" width="1.02" height="1.02"/><rect x="6" y="13" width="1.02" height="1.02"/><rect x="7" y="13" width="1.02" height="1.02"/><rect x="9" y="13" width="1.02" height="1.02"/><rect x="11" y="13" width="1.02" height="1.02"/><rect x="12" y="13" width="1.02" height="1.02"/><rect x="13" y="13" width="1.02" height="1.02"/><rect x="14" y="13" width="1.02" height="1.02"/><rect x="17" y="13" width="1.02" height="1.02"/><rect x="18" y="13" width="1.02" height="1.02"/><rect x="19" y="13" width="1.02" height="1.02"/><rect x="21" y="13" width="1.02" height="1.02"/><rect x="22" y="13" width="1.02" height="1.02"/><rect x="23" y="13" width="1.02" height="1.02"/><rect x="24" y="13" width="1.02" height="1.02"/><rect x="5" y="14" width="1.02" height="1.02"/><rect x="6" y="14" width="1.02" height="1.02"/><rect x="9" y="14" width="1.02" height="1.02"/><rect x="11" y="14" width="1.02" height="1.02"/><rect x="12" y="14" width="1.02" height="1.02"/><rect x="13" y="14" width="1.02" height="1.02"/><rect x="14" y="14" width="1.02" height="1.02"/><rect x="15" y="14" width="1.02" height="1.02"/><rect x="16" y="14" width="1.02" height="1.02"/><rect x="17" y="14" width="1.02" height="1.02"/><rect x="19" y="14" width="1.02" height="1.02"/><rect x="21" y="14" width="1.02" height="1.02"/><rect x="22" y="14" width="1.02" height="1.02"/><rect x="0" y="15" width="1.02" height="1.02"/><rect x="1" y="15" width="1.02" height="1.02"/><rect x="2" y="15" width="1.02" height="1.02"/><rect x="3" y="15" width="1.02" height="1.02"/><rect x="5" y="15" width="1.02" height="1.02"/><rect x="6" y="15" width="1.02" height="1.02"/><rect x="8" y="15" width="1.02" height="1.02"/><rect x="9" y="15" width="1.02" height="1.02"/><rect x="12" y="15" width="1.02" height="1.02"/><rect x="13" y="15" width="1.02" height="1.02"/><rect x="14" y="15" width="1.02" height="1.02"/><rect x="16" y="15" width="1.02" height="1.02"/><rect x="19" y="15" width="1.02" height="1.02"/><rect x="20" y="15" width="1.02" height="1.02"/><rect x="23" y="15" width="1.02" height="1.02"/><rect x="0" y="16" width="1.02" height="1.02"/><rect x="1" y="16" width="1.02" height="1.02"/><rect x="2" y="16" width="1.02" height="1.02"/><rect x="7" y="16" width="1.02" height="1.02"/><rect x="8" y="16" width="1.02" height="1.02"/><rect x="9" y="16" width="1.02" height="1.02"/><rect x="12" y="16" width="1.02" height="1.02"/><rect x="13" y="16" width="1.02" height="1.02"/><rect x="14" y="16" width="1.02" height="1.02"/><rect x="15" y="16" width="1.02" height="1.02"/><rect x="17" y="16" width="1.02" height="1.02"/><rect x="23" y="16" width="1.02" height="1.02"/><rect x="24" y="16" width="1.02" height="1.02"/><rect x="0" y="17" width="1.02" height="1.02"/><rect x="2" y="17" width="1.02" height="1.02"/><rect x="3" y="17" width="1.02" height="1.02"/><rect x="5" y="17" width="1.02" height="1.02"/><rect x="6" y="17" width="1.02" height="1.02"/><rect x="7" y="17" width="1.02" height="1.02"/><rect x="9" y="17" width="1.02" height="1.02"/><rect x="13" y="17" width="1.02" height="1.02"/><rect x="14" y="17" width="1.02" height="1.02"/><rect x="15" y="17" width="1.02" height="1.02"/><rect x="16" y="17" width="1.02" height="1.02"/><rect x="18" y="17" width="1.02" height="1.02"/><rect x="19" y="17" width="1.02" height="1.02"/><rect x="20" y="17" width="1.02" height="1.02"/><rect x="0" y="18" width="1.02" height="1.02"/><rect x="1" y="18" width="1.02" height="1.02"/><rect x="2" y="18" width="1.02" height="1.02"/><rect x="3" y="18" width="1.02" height="1.02"/><rect x="4" y="18" width="1.02" height="1.02"/><rect x="5" y="18" width="1.02" height="1.02"/><rect x="6" y="18" width="1.02" height="1.02"/><rect x="8" y="18" width="1.02" height="1.02"/><rect x="10" y="18" width="1.02" height="1.02"/><rect x="12" y="18" width="1.02" height="1.02"/><rect x="14" y="18" width="1.02" height="1.02"/><rect x="15" y="18" width="1.02" height="1.02"/><rect x="16" y="18" width="1.02" height="1.02"/><rect x="17" y="18" width="1.02" height="1.02"/><rect x="20" y="18" width="1.02" height="1.02"/><rect x="21" y="18" width="1.02" height="1.02"/><rect x="24" y="18" width="1.02" height="1.02"/><rect x="0" y="19" width="1.02" height="1.02"/><rect x="6" y="19" width="1.02" height="1.02"/><rect x="10" y="19" width="1.02" height="1.02"/><rect x="11" y="19" width="1.02" height="1.02"/><rect x="15" y="19" width="1.02" height="1.02"/><rect x="16" y="19" width="1.02" height="1.02"/><rect x="17" y="19" width="1.02" height="1.02"/><rect x="18" y="19" width="1.02" height="1.02"/><rect x="22" y="19" width="1.02" height="1.02"/><rect x="24" y="19" width="1.02" height="1.02"/><rect x="0" y="20" width="1.02" height="1.02"/><rect x="2" y="20" width="1.02" height="1.02"/><rect x="3" y="20" width="1.02" height="1.02"/><rect x="4" y="20" width="1.02" height="1.02"/><rect x="6" y="20" width="1.02" height="1.02"/><rect x="7" y="20" width="1.02" height="1.02"/><rect x="10" y="20" width="1.02" height="1.02"/><rect x="13" y="20" width="1.02" height="1.02"/><rect x="14" y="20" width="1.02" height="1.02"/><rect x="15" y="20" width="1.02" height="1.02"/><rect x="16" y="20" width="1.02" height="1.02"/><rect x="17" y="20" width="1.02" height="1.02"/><rect x="20" y="20" width="1.02" height="1.02"/><rect x="21" y="20" width="1.02" height="1.02"/><rect x="22" y="20" width="1.02" height="1.02"/><rect x="24" y="20" width="1.02" height="1.02"/><rect x="0" y="21" width="1.02" height="1.02"/><rect x="2" y="21" width="1.02" height="1.02"/><rect x="3" y="21" width="1.02" height="1.02"/><rect x="4" y="21" width="1.02" height="1.02"/><rect x="6" y="21" width="1.02" height="1.02"/><rect x="7" y="21" width="1.02" height="1.02"/><rect x="8" y="21" width="1.02" height="1.02"/><rect x="11" y="21" width="1.02" height="1.02"/><rect x="12" y="21" width="1.02" height="1.02"/><rect x="13" y="21" width="1.02" height="1.02"/><rect x="16" y="21" width="1.02" height="1.02"/><rect x="17" y="21" width="1.02" height="1.02"/><rect x="19" y="21" width="1.02" height="1.02"/><rect x="20" y="21" width="1.02" height="1.02"/><rect x="21" y="21" width="1.02" height="1.02"/><rect x="23" y="21" width="1.02" height="1.02"/><rect x="0" y="22" width="1.02" height="1.02"/><rect x="2" y="22" width="1.02" height="1.02"/><rect x="3" y="22" width="1.02" height="1.02"/><rect x="4" y="22" width="1.02" height="1.02"/><rect x="6" y="22" width="1.02" height="1.02"/><rect x="7" y="22" width="1.02" height="1.02"/><rect x="8" y="22" width="1.02" height="1.02"/><rect x="11" y="22" width="1.02" height="1.02"/><rect x="12" y="22" width="1.02" height="1.02"/><rect x="14" y="22" width="1.02" height="1.02"/><rect x="15" y="22" width="1.02" height="1.02"/><rect x="17" y="22" width="1.02" height="1.02"/><rect x="19" y="22" width="1.02" height="1.02"/><rect x="21" y="22" width="1.02" height="1.02"/><rect x="22" y="22" width="1.02" height="1.02"/><rect x="23" y="22" width="1.02" height="1.02"/><rect x="0" y="23" width="1.02" height="1.02"/><rect x="6" y="23" width="1.02" height="1.02"/><rect x="9" y="23" width="1.02" height="1.02"/><rect x="11" y="23" width="1.02" height="1.02"/><rect x="13" y="23" width="1.02" height="1.02"/><rect x="14" y="23" width="1.02" height="1.02"/><rect x="17" y="23" width="1.02" height="1.02"/><rect x="18" y="23" width="1.02" height="1.02"/><rect x="21" y="23" width="1.02" height="1.02"/><rect x="22" y="23" width="1.02" height="1.02"/><rect x="0" y="24" width="1.02" height="1.02"/><rect x="1" y="24" width="1.02" height="1.02"/><rect x="2" y="24" width="1.02" height="1.02"/><rect x="3" y="24" width="1.02" height="1.02"/><rect x="4" y="24" width="1.02" height="1.02"/><rect x="5" y="24" width="1.02" height="1.02"/><rect x="6" y="24" width="1.02" height="1.02"/><rect x="7" y="24" width="1.02" height="1.02"/><rect x="8" y="24" width="1.02" height="1.02"/><rect x="10" y="24" width="1.02" height="1.02"/><rect x="14" y="24" width="1.02" height="1.02"/><rect x="16" y="24" width="1.02" height="1.02"/><rect x="17" y="24" width="1.02" height="1.02"/><rect x="20" y="24" width="1.02" height="1.02"/><rect x="21" y="24" width="1.02" height="1.02"/><rect x="22" y="24" width="1.02" height="1.02"/><rect x="24" y="24" width="1.02" height="1.02"/></g></svg><svg class="r" style="left:3.90px;top:80.80px" width="8" height="8" viewBox="-4.0 -4.0 8 8"><circle r="2.65" fill="#0d4fa0"/><path d="M-0.8 -0.6 Q-0.7 -1.35 0 -1.35 Q0.8 -1.35 0.8 -0.6 Q0.8 -0.1 -0.85 1.3 H0.9" stroke="#fff" stroke-width="0.55" fill="none"/></svg><div class="t" style="left:14.70px;top:82.87px;font-size:4.659px;line-height:4.659px;color:#222;font-weight:700;">Use your credit on any flight in the app</div><svg class="r" style="left:101.50px;top:80.80px" width="8" height="8" viewBox="-4.0 -4.0 8 8"><rect x="-2.1" y="-1.4" width="4.2" height="3.2" rx="0.5" stroke="#aaa" stroke-width="0.4" fill="none"/><path d="M-1.5 -1.4L0.9 -2.1" stroke="#aaa" stroke-width="0.4"/></svg><div class="t" style="left:14.70px;top:92.28px;font-size:4.233px;line-height:4.233px;color:#9a9a9a;font-weight:400;">We'll give you the option to pay with credit at checkout when you book in the app.</div><svg class="r" style="left:3.90px;top:101.00px" width="8" height="8" viewBox="-4.0 -4.0 8 8"><circle r="2.65" fill="#0d4fa0"/><path d="M-0.8 -1.3 H0.8 L-0.05 -0.2 Q0.9 -0.15 0.9 0.55 Q0.9 1.35 0 1.35 Q-0.6 1.35 -0.9 0.95" stroke="#fff" stroke-width="0.55" fill="none"/></svg><div class="t" style="left:14.70px;top:103.09px;font-size:4.617px;line-height:4.617px;color:#222;font-weight:700;">Book a trip in the app</div><div class="t" style="left:14.70px;top:112.91px;font-size:4.19px;line-height:4.19px;color:#9a9a9a;font-weight:400;">On the payment page in the app, we'll ask you if you want to pay in credit.</div><div class="t" style="left:14.70px;top:122.61px;font-size:4.39px;line-height:4.39px;color:#13856b;font-weight:400;">Safe travels!</div></div><div class="t" style="left:1101.10px;width:400px;text-align:center;top:642.80px;font-size:11.61px;line-height:11.61px;color:#3d3d3d;font-weight:400;-webkit-text-stroke:0.45px #3d3d3d;">Mobile</div><div class="t" style="left:1279.70px;width:400px;text-align:center;top:642.64px;font-size:11.915px;line-height:11.915px;color:#3d3d3d;font-weight:400;-webkit-text-stroke:0.45px #3d3d3d;">App</div><div class="t" style="left:1497.10px;width:400px;text-align:center;top:642.49px;font-size:12.212px;line-height:12.212px;color:#3d3d3d;font-weight:400;-webkit-text-stroke:0.45px #3d3d3d;">Desktop</div>
<svg class="r" style="left:0;top:0" width="1920" height="1272" viewBox="0 0 1920 1272"><path d="M187 507.1H221.6Q222.6 507.1 222.9 506.1L223.3 505.3Q223.6 504.5 224.6 504.5H258" stroke="#7b7b7b" stroke-width="1.5" fill="none"/><path d="M357.8 517H419Q425.2 517 425.2 523.2V874.1Q425.2 880.3 431.4 880.3H437.5" stroke="#7b7b7b" stroke-width="1.5" fill="none"/><path d="M363.8 533.4H384.8Q385.6 533.4 385.9 532.5L386.2 531.6Q386.5 530.8 387.4 530.8H438.7" stroke="#7b7b7b" stroke-width="1.5" fill="none"/><path d="M545 658.8H603.7Q609.9 658.8 609.9 652.6V633Q609.9 626.8 616.1 626.8H674.4" stroke="#7b7b7b" stroke-width="1.5" fill="none"/><path d="M544 963.5H603.6Q609.8 963.5 609.8 957.3V832.9Q609.8 826.7 616 826.7H674.6" stroke="#7b7b7b" stroke-width="1.5" fill="none"/><path d="M782.5 637.2H841.1Q847.3 637.2 847.3 631V281.2Q847.3 275 853.5 275H856" stroke="#7b7b7b" stroke-width="1.5" fill="none"/><path d="M880 275H912" stroke="#7b7b7b" stroke-width="1.5" fill="none"/><path d="M847.3 524.5Q847.3 518.3 853.5 518.3H858.5" stroke="#7b7b7b" stroke-width="1.5" fill="none"/><path d="M895 518.3H912" stroke="#7b7b7b" stroke-width="1.5" fill="none"/><path d="M1019.4 264.4L1175.5 257.3" stroke="#7b7b7b" stroke-width="1.5" fill="none"/><path d="M1019.2 570.8H1176" stroke="#7b7b7b" stroke-width="1.5" fill="none"/><path d="M1019.2 591.5H1144.6Q1150.8 591.5 1150.8 597.7V837.6" stroke="#7b7b7b" stroke-width="1.5" fill="none"/><path d="M1019.2 641H1031.7Q1037.9 641 1037.9 647.2V716" stroke="#7b7b7b" stroke-width="1.5" fill="none"/><path d="M782 838.6H802.3Q808.5 838.6 808.5 844.8V941.1Q808.5 947.3 802.3 947.3H771" stroke="#7b7b7b" stroke-width="1.5" fill="none"/><path d="M958 1089.1H142.2Q136 1089.1 136 1082.9V672.2" stroke="#7b7b7b" stroke-width="1.5" fill="none"/><path d="M254.3 500.3L258.5 504.5L254.3 508.7" stroke="#7b7b7b" stroke-width="1.5" fill="none" stroke-linejoin="miter"/><path d="M434.0 876.0999999999999L438.2 880.3L434.0 884.5" stroke="#7b7b7b" stroke-width="1.5" fill="none" stroke-linejoin="miter"/><path d="M435.0 526.5999999999999L439.2 530.8L435.0 535.0" stroke="#7b7b7b" stroke-width="1.5" fill="none" stroke-linejoin="miter"/><path d="M670.6999999999999 622.5999999999999L674.9 626.8L670.6999999999999 631.0" stroke="#7b7b7b" stroke-width="1.5" fill="none" stroke-linejoin="miter"/><path d="M670.9 822.5L675.1 826.7L670.9 830.9000000000001" stroke="#7b7b7b" stroke-width="1.5" fill="none" stroke-linejoin="miter"/><path d="M908.3 270.8L912.5 275L908.3 279.2" stroke="#7b7b7b" stroke-width="1.5" fill="none" stroke-linejoin="miter"/><path d="M908.3 514.0999999999999L912.5 518.3L908.3 522.5" stroke="#7b7b7b" stroke-width="1.5" fill="none" stroke-linejoin="miter"/><path d="M1171.6 253.3L1176 257.1L1172 261.7" stroke="#7b7b7b" stroke-width="1.5" fill="none"/><path d="M1172.3 566.5999999999999L1176.5 570.8L1172.3 575.0" stroke="#7b7b7b" stroke-width="1.5" fill="none" stroke-linejoin="miter"/><path d="M1146.6 834.0L1150.8 838.2L1155.0 834.0" stroke="#7b7b7b" stroke-width="1.5" fill="none" stroke-linejoin="miter"/><path d="M1033.7 712.4L1037.9 716.6L1042.1000000000001 712.4" stroke="#7b7b7b" stroke-width="1.5" fill="none" stroke-linejoin="miter"/><path d="M774.7 943.0999999999999L770.5 947.3L774.7 951.5" stroke="#7b7b7b" stroke-width="1.5" fill="none" stroke-linejoin="miter"/><path d="M131.8 675.8000000000001L136 671.6L140.2 675.8000000000001" stroke="#7b7b7b" stroke-width="1.5" fill="none" stroke-linejoin="miter"/><path d="M782.5 637.2H787.8Q794 637.2 794 643.4V711Q794 717.2 800.2 717.2H873" stroke="#d84646" stroke-width="1.5" fill="none"/><path d="M889.5 717.2H962Q968.2 717.2 968.2 723.4V945.3" stroke="#d84646" stroke-width="1.5" fill="none"/><path d="M964.0 941.8L968.2 946L972.4000000000001 941.8" stroke="#d84646" stroke-width="1.5" fill="none" stroke-linejoin="miter"/></svg><div class="t" style="left:667.60px;width:400px;text-align:center;top:273.25px;font-size:4.698px;line-height:4.698px;color:#444;font-weight:400;">Free Trial</div><div class="t" style="left:676.40px;width:400px;text-align:center;top:516.62px;font-size:4.564px;line-height:4.564px;color:#444;font-weight:700;">Paid members</div><div class="t" style="left:681.20px;width:400px;text-align:center;top:715.14px;font-size:5.715px;line-height:5.715px;color:#5a4a4a;font-weight:400;">Error</div>
</div></body></html>
